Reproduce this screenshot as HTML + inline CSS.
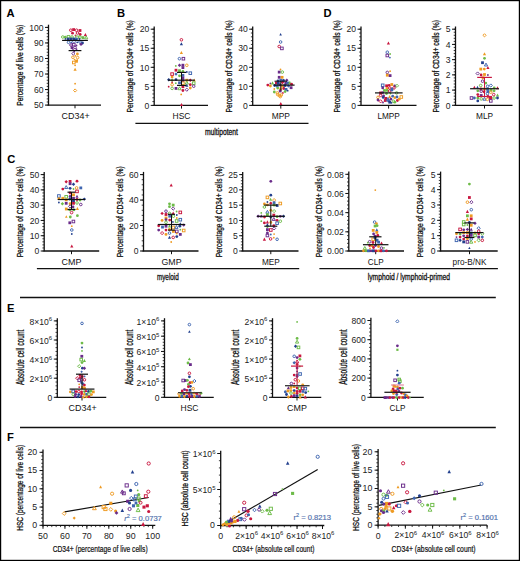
<!DOCTYPE html>
<html><head><meta charset="utf-8"><style>
html,body{margin:0;padding:0;background:#fff;overflow:hidden;}
svg{display:block;font-family:"Liberation Sans", sans-serif;}
</style></head><body>
<svg width="520" height="561" viewBox="0 0 520 561">
<rect x="0.5" y="0.5" width="519" height="560" fill="#fff" stroke="#000" stroke-width="1.4"/>
<text x="6.6" y="17.4" font-size="11.2" text-anchor="start" font-weight="bold" fill="#000" >A</text>
<text x="117" y="16.8" font-size="11.2" text-anchor="start" font-weight="bold" fill="#000" >B</text>
<text x="323.6" y="17" font-size="11.2" text-anchor="start" font-weight="bold" fill="#000" >D</text>
<text x="7.2" y="162.5" font-size="11.2" text-anchor="start" font-weight="bold" fill="#000" >C</text>
<text x="7" y="311.6" font-size="11.2" text-anchor="start" font-weight="bold" fill="#000" >E</text>
<text x="7" y="440.9" font-size="11.2" text-anchor="start" font-weight="bold" fill="#000" >F</text>
<line x1="48.5" y1="24.7" x2="48.5" y2="105.7" stroke="#111" stroke-width="1.3"/>
<line x1="46.7" y1="105.1" x2="48.5" y2="105.1" stroke="#111" stroke-width="0.8"/>
<line x1="46.7" y1="101.99" x2="48.5" y2="101.99" stroke="#111" stroke-width="0.8"/>
<line x1="46.7" y1="98.88" x2="48.5" y2="98.88" stroke="#111" stroke-width="0.8"/>
<line x1="46.7" y1="95.78" x2="48.5" y2="95.78" stroke="#111" stroke-width="0.8"/>
<line x1="46.7" y1="92.67" x2="48.5" y2="92.67" stroke="#111" stroke-width="0.8"/>
<line x1="46.7" y1="89.56" x2="48.5" y2="89.56" stroke="#111" stroke-width="0.8"/>
<line x1="46.7" y1="86.45" x2="48.5" y2="86.45" stroke="#111" stroke-width="0.8"/>
<line x1="46.7" y1="83.34" x2="48.5" y2="83.34" stroke="#111" stroke-width="0.8"/>
<line x1="46.7" y1="80.24" x2="48.5" y2="80.24" stroke="#111" stroke-width="0.8"/>
<line x1="46.7" y1="77.13" x2="48.5" y2="77.13" stroke="#111" stroke-width="0.8"/>
<line x1="46.7" y1="74.02" x2="48.5" y2="74.02" stroke="#111" stroke-width="0.8"/>
<line x1="46.7" y1="70.91" x2="48.5" y2="70.91" stroke="#111" stroke-width="0.8"/>
<line x1="46.7" y1="67.8" x2="48.5" y2="67.8" stroke="#111" stroke-width="0.8"/>
<line x1="46.7" y1="64.7" x2="48.5" y2="64.7" stroke="#111" stroke-width="0.8"/>
<line x1="46.7" y1="61.59" x2="48.5" y2="61.59" stroke="#111" stroke-width="0.8"/>
<line x1="46.7" y1="58.48" x2="48.5" y2="58.48" stroke="#111" stroke-width="0.8"/>
<line x1="46.7" y1="55.37" x2="48.5" y2="55.37" stroke="#111" stroke-width="0.8"/>
<line x1="46.7" y1="52.26" x2="48.5" y2="52.26" stroke="#111" stroke-width="0.8"/>
<line x1="46.7" y1="49.16" x2="48.5" y2="49.16" stroke="#111" stroke-width="0.8"/>
<line x1="46.7" y1="46.05" x2="48.5" y2="46.05" stroke="#111" stroke-width="0.8"/>
<line x1="46.7" y1="42.94" x2="48.5" y2="42.94" stroke="#111" stroke-width="0.8"/>
<line x1="46.7" y1="39.83" x2="48.5" y2="39.83" stroke="#111" stroke-width="0.8"/>
<line x1="46.7" y1="36.72" x2="48.5" y2="36.72" stroke="#111" stroke-width="0.8"/>
<line x1="46.7" y1="33.62" x2="48.5" y2="33.62" stroke="#111" stroke-width="0.8"/>
<line x1="46.7" y1="30.51" x2="48.5" y2="30.51" stroke="#111" stroke-width="0.8"/>
<line x1="46.7" y1="27.4" x2="48.5" y2="27.4" stroke="#111" stroke-width="0.8"/>
<line x1="45" y1="105.1" x2="48.5" y2="105.1" stroke="#111" stroke-width="1.0"/>
<text x="43.5" y="108.3" font-size="8.6" text-anchor="end" font-weight="normal" fill="#222" >50</text>
<line x1="45" y1="89.56" x2="48.5" y2="89.56" stroke="#111" stroke-width="1.0"/>
<text x="43.5" y="92.76" font-size="8.6" text-anchor="end" font-weight="normal" fill="#222" >60</text>
<line x1="45" y1="74.02" x2="48.5" y2="74.02" stroke="#111" stroke-width="1.0"/>
<text x="43.5" y="77.22" font-size="8.6" text-anchor="end" font-weight="normal" fill="#222" >70</text>
<line x1="45" y1="58.48" x2="48.5" y2="58.48" stroke="#111" stroke-width="1.0"/>
<text x="43.5" y="61.68" font-size="8.6" text-anchor="end" font-weight="normal" fill="#222" >80</text>
<line x1="45" y1="42.94" x2="48.5" y2="42.94" stroke="#111" stroke-width="1.0"/>
<text x="43.5" y="46.14" font-size="8.6" text-anchor="end" font-weight="normal" fill="#222" >90</text>
<line x1="45" y1="27.4" x2="48.5" y2="27.4" stroke="#111" stroke-width="1.0"/>
<text x="43.5" y="30.6" font-size="8.6" text-anchor="end" font-weight="normal" fill="#222" >100</text>
<line x1="48.5" y1="105.1" x2="101" y2="105.1" stroke="#111" stroke-width="1.3"/>
<line x1="75" y1="105.1" x2="75" y2="108.3" stroke="#111" stroke-width="1.0"/>
<text x="75.6" y="118.7" font-size="8.9" text-anchor="middle" fill="#111" textLength="28" lengthAdjust="spacingAndGlyphs">CD34+</text>
<text transform="translate(19.8,65.25) rotate(-90)" x="0" y="3.31" font-size="9.2" text-anchor="middle" fill="#111" stroke="#111" stroke-width="0.28" textLength="81" lengthAdjust="spacingAndGlyphs">Percentage of live cells (%)</text>
<line x1="154.2" y1="26.5" x2="154.2" y2="106" stroke="#111" stroke-width="1.3"/>
<line x1="152.4" y1="105.4" x2="154.2" y2="105.4" stroke="#111" stroke-width="0.8"/>
<line x1="152.4" y1="101.59" x2="154.2" y2="101.59" stroke="#111" stroke-width="0.8"/>
<line x1="152.4" y1="97.78" x2="154.2" y2="97.78" stroke="#111" stroke-width="0.8"/>
<line x1="152.4" y1="93.97" x2="154.2" y2="93.97" stroke="#111" stroke-width="0.8"/>
<line x1="152.4" y1="90.16" x2="154.2" y2="90.16" stroke="#111" stroke-width="0.8"/>
<line x1="152.4" y1="86.35" x2="154.2" y2="86.35" stroke="#111" stroke-width="0.8"/>
<line x1="152.4" y1="82.54" x2="154.2" y2="82.54" stroke="#111" stroke-width="0.8"/>
<line x1="152.4" y1="78.73" x2="154.2" y2="78.73" stroke="#111" stroke-width="0.8"/>
<line x1="152.4" y1="74.92" x2="154.2" y2="74.92" stroke="#111" stroke-width="0.8"/>
<line x1="152.4" y1="71.11" x2="154.2" y2="71.11" stroke="#111" stroke-width="0.8"/>
<line x1="152.4" y1="67.3" x2="154.2" y2="67.3" stroke="#111" stroke-width="0.8"/>
<line x1="152.4" y1="63.49" x2="154.2" y2="63.49" stroke="#111" stroke-width="0.8"/>
<line x1="152.4" y1="59.68" x2="154.2" y2="59.68" stroke="#111" stroke-width="0.8"/>
<line x1="152.4" y1="55.87" x2="154.2" y2="55.87" stroke="#111" stroke-width="0.8"/>
<line x1="152.4" y1="52.06" x2="154.2" y2="52.06" stroke="#111" stroke-width="0.8"/>
<line x1="152.4" y1="48.25" x2="154.2" y2="48.25" stroke="#111" stroke-width="0.8"/>
<line x1="152.4" y1="44.44" x2="154.2" y2="44.44" stroke="#111" stroke-width="0.8"/>
<line x1="152.4" y1="40.63" x2="154.2" y2="40.63" stroke="#111" stroke-width="0.8"/>
<line x1="152.4" y1="36.82" x2="154.2" y2="36.82" stroke="#111" stroke-width="0.8"/>
<line x1="152.4" y1="33.01" x2="154.2" y2="33.01" stroke="#111" stroke-width="0.8"/>
<line x1="152.4" y1="29.2" x2="154.2" y2="29.2" stroke="#111" stroke-width="0.8"/>
<line x1="150.7" y1="105.4" x2="154.2" y2="105.4" stroke="#111" stroke-width="1.0"/>
<text x="149.2" y="108.6" font-size="8.6" text-anchor="end" font-weight="normal" fill="#222" >0</text>
<line x1="150.7" y1="86.35" x2="154.2" y2="86.35" stroke="#111" stroke-width="1.0"/>
<text x="149.2" y="89.55" font-size="8.6" text-anchor="end" font-weight="normal" fill="#222" >5</text>
<line x1="150.7" y1="67.3" x2="154.2" y2="67.3" stroke="#111" stroke-width="1.0"/>
<text x="149.2" y="70.5" font-size="8.6" text-anchor="end" font-weight="normal" fill="#222" >10</text>
<line x1="150.7" y1="48.25" x2="154.2" y2="48.25" stroke="#111" stroke-width="1.0"/>
<text x="149.2" y="51.45" font-size="8.6" text-anchor="end" font-weight="normal" fill="#222" >15</text>
<line x1="150.7" y1="29.2" x2="154.2" y2="29.2" stroke="#111" stroke-width="1.0"/>
<text x="149.2" y="32.4" font-size="8.6" text-anchor="end" font-weight="normal" fill="#222" >20</text>
<line x1="154.2" y1="105.4" x2="208" y2="105.4" stroke="#111" stroke-width="1.3"/>
<line x1="181.5" y1="105.4" x2="181.5" y2="108.6" stroke="#111" stroke-width="1.0"/>
<text x="181.5" y="119" font-size="8.9" text-anchor="middle" fill="#111" textLength="17.9" lengthAdjust="spacingAndGlyphs">HSC</text>
<text transform="translate(129.2,66.3) rotate(-90)" x="0" y="3.31" font-size="9.2" text-anchor="middle" fill="#111" stroke="#111" stroke-width="0.28" textLength="92.3" lengthAdjust="spacingAndGlyphs">Percentage of CD34+ cells (%)</text>
<line x1="252.7" y1="26.5" x2="252.7" y2="106" stroke="#111" stroke-width="1.3"/>
<line x1="250.9" y1="105.4" x2="252.7" y2="105.4" stroke="#111" stroke-width="0.8"/>
<line x1="250.9" y1="101.59" x2="252.7" y2="101.59" stroke="#111" stroke-width="0.8"/>
<line x1="250.9" y1="97.78" x2="252.7" y2="97.78" stroke="#111" stroke-width="0.8"/>
<line x1="250.9" y1="93.97" x2="252.7" y2="93.97" stroke="#111" stroke-width="0.8"/>
<line x1="250.9" y1="90.16" x2="252.7" y2="90.16" stroke="#111" stroke-width="0.8"/>
<line x1="250.9" y1="86.35" x2="252.7" y2="86.35" stroke="#111" stroke-width="0.8"/>
<line x1="250.9" y1="82.54" x2="252.7" y2="82.54" stroke="#111" stroke-width="0.8"/>
<line x1="250.9" y1="78.73" x2="252.7" y2="78.73" stroke="#111" stroke-width="0.8"/>
<line x1="250.9" y1="74.92" x2="252.7" y2="74.92" stroke="#111" stroke-width="0.8"/>
<line x1="250.9" y1="71.11" x2="252.7" y2="71.11" stroke="#111" stroke-width="0.8"/>
<line x1="250.9" y1="67.3" x2="252.7" y2="67.3" stroke="#111" stroke-width="0.8"/>
<line x1="250.9" y1="63.49" x2="252.7" y2="63.49" stroke="#111" stroke-width="0.8"/>
<line x1="250.9" y1="59.68" x2="252.7" y2="59.68" stroke="#111" stroke-width="0.8"/>
<line x1="250.9" y1="55.87" x2="252.7" y2="55.87" stroke="#111" stroke-width="0.8"/>
<line x1="250.9" y1="52.06" x2="252.7" y2="52.06" stroke="#111" stroke-width="0.8"/>
<line x1="250.9" y1="48.25" x2="252.7" y2="48.25" stroke="#111" stroke-width="0.8"/>
<line x1="250.9" y1="44.44" x2="252.7" y2="44.44" stroke="#111" stroke-width="0.8"/>
<line x1="250.9" y1="40.63" x2="252.7" y2="40.63" stroke="#111" stroke-width="0.8"/>
<line x1="250.9" y1="36.82" x2="252.7" y2="36.82" stroke="#111" stroke-width="0.8"/>
<line x1="250.9" y1="33.01" x2="252.7" y2="33.01" stroke="#111" stroke-width="0.8"/>
<line x1="250.9" y1="29.2" x2="252.7" y2="29.2" stroke="#111" stroke-width="0.8"/>
<line x1="249.2" y1="105.4" x2="252.7" y2="105.4" stroke="#111" stroke-width="1.0"/>
<text x="247.7" y="108.6" font-size="8.6" text-anchor="end" font-weight="normal" fill="#222" >0</text>
<line x1="249.2" y1="86.35" x2="252.7" y2="86.35" stroke="#111" stroke-width="1.0"/>
<text x="247.7" y="89.55" font-size="8.6" text-anchor="end" font-weight="normal" fill="#222" >10</text>
<line x1="249.2" y1="67.3" x2="252.7" y2="67.3" stroke="#111" stroke-width="1.0"/>
<text x="247.7" y="70.5" font-size="8.6" text-anchor="end" font-weight="normal" fill="#222" >20</text>
<line x1="249.2" y1="48.25" x2="252.7" y2="48.25" stroke="#111" stroke-width="1.0"/>
<text x="247.7" y="51.45" font-size="8.6" text-anchor="end" font-weight="normal" fill="#222" >30</text>
<line x1="249.2" y1="29.2" x2="252.7" y2="29.2" stroke="#111" stroke-width="1.0"/>
<text x="247.7" y="32.4" font-size="8.6" text-anchor="end" font-weight="normal" fill="#222" >40</text>
<line x1="252.7" y1="105.4" x2="308" y2="105.4" stroke="#111" stroke-width="1.3"/>
<line x1="280.8" y1="105.4" x2="280.8" y2="108.6" stroke="#111" stroke-width="1.0"/>
<text x="280.8" y="119" font-size="8.9" text-anchor="middle" fill="#111" textLength="18.2" lengthAdjust="spacingAndGlyphs">MPP</text>
<text transform="translate(228.3,66.3) rotate(-90)" x="0" y="3.31" font-size="9.2" text-anchor="middle" fill="#111" stroke="#111" stroke-width="0.28" textLength="92.3" lengthAdjust="spacingAndGlyphs">Percentage of CD34+ cells (%)</text>
<line x1="361" y1="26.5" x2="361" y2="106" stroke="#111" stroke-width="1.3"/>
<line x1="359.2" y1="105.4" x2="361" y2="105.4" stroke="#111" stroke-width="0.8"/>
<line x1="359.2" y1="101.59" x2="361" y2="101.59" stroke="#111" stroke-width="0.8"/>
<line x1="359.2" y1="97.78" x2="361" y2="97.78" stroke="#111" stroke-width="0.8"/>
<line x1="359.2" y1="93.97" x2="361" y2="93.97" stroke="#111" stroke-width="0.8"/>
<line x1="359.2" y1="90.16" x2="361" y2="90.16" stroke="#111" stroke-width="0.8"/>
<line x1="359.2" y1="86.35" x2="361" y2="86.35" stroke="#111" stroke-width="0.8"/>
<line x1="359.2" y1="82.54" x2="361" y2="82.54" stroke="#111" stroke-width="0.8"/>
<line x1="359.2" y1="78.73" x2="361" y2="78.73" stroke="#111" stroke-width="0.8"/>
<line x1="359.2" y1="74.92" x2="361" y2="74.92" stroke="#111" stroke-width="0.8"/>
<line x1="359.2" y1="71.11" x2="361" y2="71.11" stroke="#111" stroke-width="0.8"/>
<line x1="359.2" y1="67.3" x2="361" y2="67.3" stroke="#111" stroke-width="0.8"/>
<line x1="359.2" y1="63.49" x2="361" y2="63.49" stroke="#111" stroke-width="0.8"/>
<line x1="359.2" y1="59.68" x2="361" y2="59.68" stroke="#111" stroke-width="0.8"/>
<line x1="359.2" y1="55.87" x2="361" y2="55.87" stroke="#111" stroke-width="0.8"/>
<line x1="359.2" y1="52.06" x2="361" y2="52.06" stroke="#111" stroke-width="0.8"/>
<line x1="359.2" y1="48.25" x2="361" y2="48.25" stroke="#111" stroke-width="0.8"/>
<line x1="359.2" y1="44.44" x2="361" y2="44.44" stroke="#111" stroke-width="0.8"/>
<line x1="359.2" y1="40.63" x2="361" y2="40.63" stroke="#111" stroke-width="0.8"/>
<line x1="359.2" y1="36.82" x2="361" y2="36.82" stroke="#111" stroke-width="0.8"/>
<line x1="359.2" y1="33.01" x2="361" y2="33.01" stroke="#111" stroke-width="0.8"/>
<line x1="359.2" y1="29.2" x2="361" y2="29.2" stroke="#111" stroke-width="0.8"/>
<line x1="357.5" y1="105.4" x2="361" y2="105.4" stroke="#111" stroke-width="1.0"/>
<text x="356" y="108.6" font-size="8.6" text-anchor="end" font-weight="normal" fill="#222" >0</text>
<line x1="357.5" y1="86.35" x2="361" y2="86.35" stroke="#111" stroke-width="1.0"/>
<text x="356" y="89.55" font-size="8.6" text-anchor="end" font-weight="normal" fill="#222" >5</text>
<line x1="357.5" y1="67.3" x2="361" y2="67.3" stroke="#111" stroke-width="1.0"/>
<text x="356" y="70.5" font-size="8.6" text-anchor="end" font-weight="normal" fill="#222" >10</text>
<line x1="357.5" y1="48.25" x2="361" y2="48.25" stroke="#111" stroke-width="1.0"/>
<text x="356" y="51.45" font-size="8.6" text-anchor="end" font-weight="normal" fill="#222" >15</text>
<line x1="357.5" y1="29.2" x2="361" y2="29.2" stroke="#111" stroke-width="1.0"/>
<text x="356" y="32.4" font-size="8.6" text-anchor="end" font-weight="normal" fill="#222" >20</text>
<line x1="361" y1="105.4" x2="416.5" y2="105.4" stroke="#111" stroke-width="1.3"/>
<line x1="388.6" y1="105.4" x2="388.6" y2="108.6" stroke="#111" stroke-width="1.0"/>
<text x="388.6" y="119" font-size="8.9" text-anchor="middle" fill="#111" textLength="22.4" lengthAdjust="spacingAndGlyphs">LMPP</text>
<text transform="translate(336.9,66.3) rotate(-90)" x="0" y="3.31" font-size="9.2" text-anchor="middle" fill="#111" stroke="#111" stroke-width="0.28" textLength="92.3" lengthAdjust="spacingAndGlyphs">Percentage of CD34+ cells (%)</text>
<line x1="455.5" y1="26.5" x2="455.5" y2="105.9" stroke="#111" stroke-width="1.3"/>
<line x1="453.7" y1="105.3" x2="455.5" y2="105.3" stroke="#111" stroke-width="0.8"/>
<line x1="453.7" y1="102.26" x2="455.5" y2="102.26" stroke="#111" stroke-width="0.8"/>
<line x1="453.7" y1="99.21" x2="455.5" y2="99.21" stroke="#111" stroke-width="0.8"/>
<line x1="453.7" y1="96.17" x2="455.5" y2="96.17" stroke="#111" stroke-width="0.8"/>
<line x1="453.7" y1="93.12" x2="455.5" y2="93.12" stroke="#111" stroke-width="0.8"/>
<line x1="453.7" y1="90.08" x2="455.5" y2="90.08" stroke="#111" stroke-width="0.8"/>
<line x1="453.7" y1="87.04" x2="455.5" y2="87.04" stroke="#111" stroke-width="0.8"/>
<line x1="453.7" y1="83.99" x2="455.5" y2="83.99" stroke="#111" stroke-width="0.8"/>
<line x1="453.7" y1="80.95" x2="455.5" y2="80.95" stroke="#111" stroke-width="0.8"/>
<line x1="453.7" y1="77.9" x2="455.5" y2="77.9" stroke="#111" stroke-width="0.8"/>
<line x1="453.7" y1="74.86" x2="455.5" y2="74.86" stroke="#111" stroke-width="0.8"/>
<line x1="453.7" y1="71.82" x2="455.5" y2="71.82" stroke="#111" stroke-width="0.8"/>
<line x1="453.7" y1="68.77" x2="455.5" y2="68.77" stroke="#111" stroke-width="0.8"/>
<line x1="453.7" y1="65.73" x2="455.5" y2="65.73" stroke="#111" stroke-width="0.8"/>
<line x1="453.7" y1="62.68" x2="455.5" y2="62.68" stroke="#111" stroke-width="0.8"/>
<line x1="453.7" y1="59.64" x2="455.5" y2="59.64" stroke="#111" stroke-width="0.8"/>
<line x1="453.7" y1="56.6" x2="455.5" y2="56.6" stroke="#111" stroke-width="0.8"/>
<line x1="453.7" y1="53.55" x2="455.5" y2="53.55" stroke="#111" stroke-width="0.8"/>
<line x1="453.7" y1="50.51" x2="455.5" y2="50.51" stroke="#111" stroke-width="0.8"/>
<line x1="453.7" y1="47.46" x2="455.5" y2="47.46" stroke="#111" stroke-width="0.8"/>
<line x1="453.7" y1="44.42" x2="455.5" y2="44.42" stroke="#111" stroke-width="0.8"/>
<line x1="453.7" y1="41.38" x2="455.5" y2="41.38" stroke="#111" stroke-width="0.8"/>
<line x1="453.7" y1="38.33" x2="455.5" y2="38.33" stroke="#111" stroke-width="0.8"/>
<line x1="453.7" y1="35.29" x2="455.5" y2="35.29" stroke="#111" stroke-width="0.8"/>
<line x1="453.7" y1="32.24" x2="455.5" y2="32.24" stroke="#111" stroke-width="0.8"/>
<line x1="453.7" y1="29.2" x2="455.5" y2="29.2" stroke="#111" stroke-width="0.8"/>
<line x1="452" y1="105.3" x2="455.5" y2="105.3" stroke="#111" stroke-width="1.0"/>
<text x="450.5" y="108.5" font-size="8.6" text-anchor="end" font-weight="normal" fill="#222" >0</text>
<line x1="452" y1="90.08" x2="455.5" y2="90.08" stroke="#111" stroke-width="1.0"/>
<text x="450.5" y="93.28" font-size="8.6" text-anchor="end" font-weight="normal" fill="#222" >1</text>
<line x1="452" y1="74.86" x2="455.5" y2="74.86" stroke="#111" stroke-width="1.0"/>
<text x="450.5" y="78.06" font-size="8.6" text-anchor="end" font-weight="normal" fill="#222" >2</text>
<line x1="452" y1="59.64" x2="455.5" y2="59.64" stroke="#111" stroke-width="1.0"/>
<text x="450.5" y="62.84" font-size="8.6" text-anchor="end" font-weight="normal" fill="#222" >3</text>
<line x1="452" y1="44.42" x2="455.5" y2="44.42" stroke="#111" stroke-width="1.0"/>
<text x="450.5" y="47.62" font-size="8.6" text-anchor="end" font-weight="normal" fill="#222" >4</text>
<line x1="452" y1="29.2" x2="455.5" y2="29.2" stroke="#111" stroke-width="1.0"/>
<text x="450.5" y="32.4" font-size="8.6" text-anchor="end" font-weight="normal" fill="#222" >5</text>
<line x1="455.5" y1="105.3" x2="512.5" y2="105.3" stroke="#111" stroke-width="1.3"/>
<line x1="484.5" y1="105.3" x2="484.5" y2="108.5" stroke="#111" stroke-width="1.0"/>
<text x="484.5" y="118.9" font-size="8.9" text-anchor="middle" fill="#111" textLength="17" lengthAdjust="spacingAndGlyphs">MLP</text>
<text transform="translate(435.6,66.25) rotate(-90)" x="0" y="3.31" font-size="9.2" text-anchor="middle" fill="#111" stroke="#111" stroke-width="0.28" textLength="92.3" lengthAdjust="spacingAndGlyphs">Percentage of CD34+ cells (%)</text>
<line x1="44.2" y1="171.9" x2="44.2" y2="251.6" stroke="#111" stroke-width="1.3"/>
<line x1="42.4" y1="251" x2="44.2" y2="251" stroke="#111" stroke-width="0.8"/>
<line x1="42.4" y1="247.94" x2="44.2" y2="247.94" stroke="#111" stroke-width="0.8"/>
<line x1="42.4" y1="244.89" x2="44.2" y2="244.89" stroke="#111" stroke-width="0.8"/>
<line x1="42.4" y1="241.83" x2="44.2" y2="241.83" stroke="#111" stroke-width="0.8"/>
<line x1="42.4" y1="238.78" x2="44.2" y2="238.78" stroke="#111" stroke-width="0.8"/>
<line x1="42.4" y1="235.72" x2="44.2" y2="235.72" stroke="#111" stroke-width="0.8"/>
<line x1="42.4" y1="232.66" x2="44.2" y2="232.66" stroke="#111" stroke-width="0.8"/>
<line x1="42.4" y1="229.61" x2="44.2" y2="229.61" stroke="#111" stroke-width="0.8"/>
<line x1="42.4" y1="226.55" x2="44.2" y2="226.55" stroke="#111" stroke-width="0.8"/>
<line x1="42.4" y1="223.5" x2="44.2" y2="223.5" stroke="#111" stroke-width="0.8"/>
<line x1="42.4" y1="220.44" x2="44.2" y2="220.44" stroke="#111" stroke-width="0.8"/>
<line x1="42.4" y1="217.38" x2="44.2" y2="217.38" stroke="#111" stroke-width="0.8"/>
<line x1="42.4" y1="214.33" x2="44.2" y2="214.33" stroke="#111" stroke-width="0.8"/>
<line x1="42.4" y1="211.27" x2="44.2" y2="211.27" stroke="#111" stroke-width="0.8"/>
<line x1="42.4" y1="208.22" x2="44.2" y2="208.22" stroke="#111" stroke-width="0.8"/>
<line x1="42.4" y1="205.16" x2="44.2" y2="205.16" stroke="#111" stroke-width="0.8"/>
<line x1="42.4" y1="202.1" x2="44.2" y2="202.1" stroke="#111" stroke-width="0.8"/>
<line x1="42.4" y1="199.05" x2="44.2" y2="199.05" stroke="#111" stroke-width="0.8"/>
<line x1="42.4" y1="195.99" x2="44.2" y2="195.99" stroke="#111" stroke-width="0.8"/>
<line x1="42.4" y1="192.94" x2="44.2" y2="192.94" stroke="#111" stroke-width="0.8"/>
<line x1="42.4" y1="189.88" x2="44.2" y2="189.88" stroke="#111" stroke-width="0.8"/>
<line x1="42.4" y1="186.82" x2="44.2" y2="186.82" stroke="#111" stroke-width="0.8"/>
<line x1="42.4" y1="183.77" x2="44.2" y2="183.77" stroke="#111" stroke-width="0.8"/>
<line x1="42.4" y1="180.71" x2="44.2" y2="180.71" stroke="#111" stroke-width="0.8"/>
<line x1="42.4" y1="177.66" x2="44.2" y2="177.66" stroke="#111" stroke-width="0.8"/>
<line x1="42.4" y1="174.6" x2="44.2" y2="174.6" stroke="#111" stroke-width="0.8"/>
<line x1="40.7" y1="251" x2="44.2" y2="251" stroke="#111" stroke-width="1.0"/>
<text x="39.2" y="254.2" font-size="8.6" text-anchor="end" font-weight="normal" fill="#222" >0</text>
<line x1="40.7" y1="235.72" x2="44.2" y2="235.72" stroke="#111" stroke-width="1.0"/>
<text x="39.2" y="238.92" font-size="8.6" text-anchor="end" font-weight="normal" fill="#222" >10</text>
<line x1="40.7" y1="220.44" x2="44.2" y2="220.44" stroke="#111" stroke-width="1.0"/>
<text x="39.2" y="223.64" font-size="8.6" text-anchor="end" font-weight="normal" fill="#222" >20</text>
<line x1="40.7" y1="205.16" x2="44.2" y2="205.16" stroke="#111" stroke-width="1.0"/>
<text x="39.2" y="208.36" font-size="8.6" text-anchor="end" font-weight="normal" fill="#222" >30</text>
<line x1="40.7" y1="189.88" x2="44.2" y2="189.88" stroke="#111" stroke-width="1.0"/>
<text x="39.2" y="193.08" font-size="8.6" text-anchor="end" font-weight="normal" fill="#222" >40</text>
<line x1="40.7" y1="174.6" x2="44.2" y2="174.6" stroke="#111" stroke-width="1.0"/>
<text x="39.2" y="177.8" font-size="8.6" text-anchor="end" font-weight="normal" fill="#222" >50</text>
<line x1="44.2" y1="251" x2="99.2" y2="251" stroke="#111" stroke-width="1.3"/>
<line x1="71.5" y1="251" x2="71.5" y2="254.2" stroke="#111" stroke-width="1.0"/>
<text x="71.5" y="264.6" font-size="8.9" text-anchor="middle" fill="#111" textLength="19.8" lengthAdjust="spacingAndGlyphs">CMP</text>
<text transform="translate(19.2,211.8) rotate(-90)" x="0" y="3.31" font-size="9.2" text-anchor="middle" fill="#111" stroke="#111" stroke-width="0.28" textLength="91" lengthAdjust="spacingAndGlyphs">Percentage of CD34+ cells (%)</text>
<line x1="143.5" y1="171.9" x2="143.5" y2="251.6" stroke="#111" stroke-width="1.3"/>
<line x1="141.7" y1="251" x2="143.5" y2="251" stroke="#111" stroke-width="0.8"/>
<line x1="141.7" y1="245.91" x2="143.5" y2="245.91" stroke="#111" stroke-width="0.8"/>
<line x1="141.7" y1="240.81" x2="143.5" y2="240.81" stroke="#111" stroke-width="0.8"/>
<line x1="141.7" y1="235.72" x2="143.5" y2="235.72" stroke="#111" stroke-width="0.8"/>
<line x1="141.7" y1="230.63" x2="143.5" y2="230.63" stroke="#111" stroke-width="0.8"/>
<line x1="141.7" y1="225.53" x2="143.5" y2="225.53" stroke="#111" stroke-width="0.8"/>
<line x1="141.7" y1="220.44" x2="143.5" y2="220.44" stroke="#111" stroke-width="0.8"/>
<line x1="141.7" y1="215.35" x2="143.5" y2="215.35" stroke="#111" stroke-width="0.8"/>
<line x1="141.7" y1="210.25" x2="143.5" y2="210.25" stroke="#111" stroke-width="0.8"/>
<line x1="141.7" y1="205.16" x2="143.5" y2="205.16" stroke="#111" stroke-width="0.8"/>
<line x1="141.7" y1="200.07" x2="143.5" y2="200.07" stroke="#111" stroke-width="0.8"/>
<line x1="141.7" y1="194.97" x2="143.5" y2="194.97" stroke="#111" stroke-width="0.8"/>
<line x1="141.7" y1="189.88" x2="143.5" y2="189.88" stroke="#111" stroke-width="0.8"/>
<line x1="141.7" y1="184.79" x2="143.5" y2="184.79" stroke="#111" stroke-width="0.8"/>
<line x1="141.7" y1="179.69" x2="143.5" y2="179.69" stroke="#111" stroke-width="0.8"/>
<line x1="141.7" y1="174.6" x2="143.5" y2="174.6" stroke="#111" stroke-width="0.8"/>
<line x1="140" y1="251" x2="143.5" y2="251" stroke="#111" stroke-width="1.0"/>
<text x="138.5" y="254.2" font-size="8.6" text-anchor="end" font-weight="normal" fill="#222" >0</text>
<line x1="140" y1="225.53" x2="143.5" y2="225.53" stroke="#111" stroke-width="1.0"/>
<text x="138.5" y="228.73" font-size="8.6" text-anchor="end" font-weight="normal" fill="#222" >20</text>
<line x1="140" y1="200.07" x2="143.5" y2="200.07" stroke="#111" stroke-width="1.0"/>
<text x="138.5" y="203.27" font-size="8.6" text-anchor="end" font-weight="normal" fill="#222" >40</text>
<line x1="140" y1="174.6" x2="143.5" y2="174.6" stroke="#111" stroke-width="1.0"/>
<text x="138.5" y="177.8" font-size="8.6" text-anchor="end" font-weight="normal" fill="#222" >60</text>
<line x1="143.5" y1="251" x2="198.5" y2="251" stroke="#111" stroke-width="1.3"/>
<line x1="171.5" y1="251" x2="171.5" y2="254.2" stroke="#111" stroke-width="1.0"/>
<text x="171.5" y="264.6" font-size="8.9" text-anchor="middle" fill="#111" textLength="20" lengthAdjust="spacingAndGlyphs">GMP</text>
<text transform="translate(119.2,211.8) rotate(-90)" x="0" y="3.31" font-size="9.2" text-anchor="middle" fill="#111" stroke="#111" stroke-width="0.28" textLength="91" lengthAdjust="spacingAndGlyphs">Percentage of CD34+ cells (%)</text>
<line x1="242.7" y1="171.9" x2="242.7" y2="251.6" stroke="#111" stroke-width="1.3"/>
<line x1="240.9" y1="251" x2="242.7" y2="251" stroke="#111" stroke-width="0.8"/>
<line x1="240.9" y1="247.94" x2="242.7" y2="247.94" stroke="#111" stroke-width="0.8"/>
<line x1="240.9" y1="244.89" x2="242.7" y2="244.89" stroke="#111" stroke-width="0.8"/>
<line x1="240.9" y1="241.83" x2="242.7" y2="241.83" stroke="#111" stroke-width="0.8"/>
<line x1="240.9" y1="238.78" x2="242.7" y2="238.78" stroke="#111" stroke-width="0.8"/>
<line x1="240.9" y1="235.72" x2="242.7" y2="235.72" stroke="#111" stroke-width="0.8"/>
<line x1="240.9" y1="232.66" x2="242.7" y2="232.66" stroke="#111" stroke-width="0.8"/>
<line x1="240.9" y1="229.61" x2="242.7" y2="229.61" stroke="#111" stroke-width="0.8"/>
<line x1="240.9" y1="226.55" x2="242.7" y2="226.55" stroke="#111" stroke-width="0.8"/>
<line x1="240.9" y1="223.5" x2="242.7" y2="223.5" stroke="#111" stroke-width="0.8"/>
<line x1="240.9" y1="220.44" x2="242.7" y2="220.44" stroke="#111" stroke-width="0.8"/>
<line x1="240.9" y1="217.38" x2="242.7" y2="217.38" stroke="#111" stroke-width="0.8"/>
<line x1="240.9" y1="214.33" x2="242.7" y2="214.33" stroke="#111" stroke-width="0.8"/>
<line x1="240.9" y1="211.27" x2="242.7" y2="211.27" stroke="#111" stroke-width="0.8"/>
<line x1="240.9" y1="208.22" x2="242.7" y2="208.22" stroke="#111" stroke-width="0.8"/>
<line x1="240.9" y1="205.16" x2="242.7" y2="205.16" stroke="#111" stroke-width="0.8"/>
<line x1="240.9" y1="202.1" x2="242.7" y2="202.1" stroke="#111" stroke-width="0.8"/>
<line x1="240.9" y1="199.05" x2="242.7" y2="199.05" stroke="#111" stroke-width="0.8"/>
<line x1="240.9" y1="195.99" x2="242.7" y2="195.99" stroke="#111" stroke-width="0.8"/>
<line x1="240.9" y1="192.94" x2="242.7" y2="192.94" stroke="#111" stroke-width="0.8"/>
<line x1="240.9" y1="189.88" x2="242.7" y2="189.88" stroke="#111" stroke-width="0.8"/>
<line x1="240.9" y1="186.82" x2="242.7" y2="186.82" stroke="#111" stroke-width="0.8"/>
<line x1="240.9" y1="183.77" x2="242.7" y2="183.77" stroke="#111" stroke-width="0.8"/>
<line x1="240.9" y1="180.71" x2="242.7" y2="180.71" stroke="#111" stroke-width="0.8"/>
<line x1="240.9" y1="177.66" x2="242.7" y2="177.66" stroke="#111" stroke-width="0.8"/>
<line x1="240.9" y1="174.6" x2="242.7" y2="174.6" stroke="#111" stroke-width="0.8"/>
<line x1="239.2" y1="251" x2="242.7" y2="251" stroke="#111" stroke-width="1.0"/>
<text x="237.7" y="254.2" font-size="8.6" text-anchor="end" font-weight="normal" fill="#222" >0</text>
<line x1="239.2" y1="235.72" x2="242.7" y2="235.72" stroke="#111" stroke-width="1.0"/>
<text x="237.7" y="238.92" font-size="8.6" text-anchor="end" font-weight="normal" fill="#222" >5</text>
<line x1="239.2" y1="220.44" x2="242.7" y2="220.44" stroke="#111" stroke-width="1.0"/>
<text x="237.7" y="223.64" font-size="8.6" text-anchor="end" font-weight="normal" fill="#222" >10</text>
<line x1="239.2" y1="205.16" x2="242.7" y2="205.16" stroke="#111" stroke-width="1.0"/>
<text x="237.7" y="208.36" font-size="8.6" text-anchor="end" font-weight="normal" fill="#222" >15</text>
<line x1="239.2" y1="189.88" x2="242.7" y2="189.88" stroke="#111" stroke-width="1.0"/>
<text x="237.7" y="193.08" font-size="8.6" text-anchor="end" font-weight="normal" fill="#222" >20</text>
<line x1="239.2" y1="174.6" x2="242.7" y2="174.6" stroke="#111" stroke-width="1.0"/>
<text x="237.7" y="177.8" font-size="8.6" text-anchor="end" font-weight="normal" fill="#222" >25</text>
<line x1="242.7" y1="251" x2="298.5" y2="251" stroke="#111" stroke-width="1.3"/>
<line x1="270.8" y1="251" x2="270.8" y2="254.2" stroke="#111" stroke-width="1.0"/>
<text x="270.8" y="264.6" font-size="8.9" text-anchor="middle" fill="#111" textLength="17.8" lengthAdjust="spacingAndGlyphs">MEP</text>
<text transform="translate(219,211.8) rotate(-90)" x="0" y="3.31" font-size="9.2" text-anchor="middle" fill="#111" stroke="#111" stroke-width="0.28" textLength="91" lengthAdjust="spacingAndGlyphs">Percentage of CD34+ cells (%)</text>
<line x1="348.8" y1="171.6" x2="348.8" y2="251.6" stroke="#111" stroke-width="1.3"/>
<line x1="347" y1="251" x2="348.8" y2="251" stroke="#111" stroke-width="0.8"/>
<line x1="347" y1="247.16" x2="348.8" y2="247.16" stroke="#111" stroke-width="0.8"/>
<line x1="347" y1="243.33" x2="348.8" y2="243.33" stroke="#111" stroke-width="0.8"/>
<line x1="347" y1="239.5" x2="348.8" y2="239.5" stroke="#111" stroke-width="0.8"/>
<line x1="347" y1="235.66" x2="348.8" y2="235.66" stroke="#111" stroke-width="0.8"/>
<line x1="347" y1="231.82" x2="348.8" y2="231.82" stroke="#111" stroke-width="0.8"/>
<line x1="347" y1="227.99" x2="348.8" y2="227.99" stroke="#111" stroke-width="0.8"/>
<line x1="347" y1="224.16" x2="348.8" y2="224.16" stroke="#111" stroke-width="0.8"/>
<line x1="347" y1="220.32" x2="348.8" y2="220.32" stroke="#111" stroke-width="0.8"/>
<line x1="347" y1="216.49" x2="348.8" y2="216.49" stroke="#111" stroke-width="0.8"/>
<line x1="347" y1="212.65" x2="348.8" y2="212.65" stroke="#111" stroke-width="0.8"/>
<line x1="347" y1="208.81" x2="348.8" y2="208.81" stroke="#111" stroke-width="0.8"/>
<line x1="347" y1="204.98" x2="348.8" y2="204.98" stroke="#111" stroke-width="0.8"/>
<line x1="347" y1="201.14" x2="348.8" y2="201.14" stroke="#111" stroke-width="0.8"/>
<line x1="347" y1="197.31" x2="348.8" y2="197.31" stroke="#111" stroke-width="0.8"/>
<line x1="347" y1="193.47" x2="348.8" y2="193.47" stroke="#111" stroke-width="0.8"/>
<line x1="347" y1="189.64" x2="348.8" y2="189.64" stroke="#111" stroke-width="0.8"/>
<line x1="347" y1="185.8" x2="348.8" y2="185.8" stroke="#111" stroke-width="0.8"/>
<line x1="347" y1="181.97" x2="348.8" y2="181.97" stroke="#111" stroke-width="0.8"/>
<line x1="347" y1="178.13" x2="348.8" y2="178.13" stroke="#111" stroke-width="0.8"/>
<line x1="347" y1="174.3" x2="348.8" y2="174.3" stroke="#111" stroke-width="0.8"/>
<line x1="345.3" y1="251" x2="348.8" y2="251" stroke="#111" stroke-width="1.0"/>
<text x="343.8" y="254.2" font-size="8.6" text-anchor="end" font-weight="normal" fill="#222" >0.00</text>
<line x1="345.3" y1="231.82" x2="348.8" y2="231.82" stroke="#111" stroke-width="1.0"/>
<text x="343.8" y="235.02" font-size="8.6" text-anchor="end" font-weight="normal" fill="#222" >0.02</text>
<line x1="345.3" y1="212.65" x2="348.8" y2="212.65" stroke="#111" stroke-width="1.0"/>
<text x="343.8" y="215.85" font-size="8.6" text-anchor="end" font-weight="normal" fill="#222" >0.04</text>
<line x1="345.3" y1="193.48" x2="348.8" y2="193.48" stroke="#111" stroke-width="1.0"/>
<text x="343.8" y="196.68" font-size="8.6" text-anchor="end" font-weight="normal" fill="#222" >0.06</text>
<line x1="345.3" y1="174.3" x2="348.8" y2="174.3" stroke="#111" stroke-width="1.0"/>
<text x="343.8" y="177.5" font-size="8.6" text-anchor="end" font-weight="normal" fill="#222" >0.08</text>
<line x1="348.8" y1="251" x2="404" y2="251" stroke="#111" stroke-width="1.3"/>
<line x1="375.7" y1="251" x2="375.7" y2="254.2" stroke="#111" stroke-width="1.0"/>
<text x="375.7" y="264.6" font-size="8.9" text-anchor="middle" fill="#111" textLength="15.8" lengthAdjust="spacingAndGlyphs">CLP</text>
<text transform="translate(319,211.65) rotate(-90)" x="0" y="3.31" font-size="9.2" text-anchor="middle" fill="#111" stroke="#111" stroke-width="0.28" textLength="91" lengthAdjust="spacingAndGlyphs">Percentage of CD34+ cells (%)</text>
<line x1="440.6" y1="171.6" x2="440.6" y2="251.6" stroke="#111" stroke-width="1.3"/>
<line x1="438.8" y1="251" x2="440.6" y2="251" stroke="#111" stroke-width="0.8"/>
<line x1="438.8" y1="247.93" x2="440.6" y2="247.93" stroke="#111" stroke-width="0.8"/>
<line x1="438.8" y1="244.86" x2="440.6" y2="244.86" stroke="#111" stroke-width="0.8"/>
<line x1="438.8" y1="241.8" x2="440.6" y2="241.8" stroke="#111" stroke-width="0.8"/>
<line x1="438.8" y1="238.73" x2="440.6" y2="238.73" stroke="#111" stroke-width="0.8"/>
<line x1="438.8" y1="235.66" x2="440.6" y2="235.66" stroke="#111" stroke-width="0.8"/>
<line x1="438.8" y1="232.59" x2="440.6" y2="232.59" stroke="#111" stroke-width="0.8"/>
<line x1="438.8" y1="229.52" x2="440.6" y2="229.52" stroke="#111" stroke-width="0.8"/>
<line x1="438.8" y1="226.46" x2="440.6" y2="226.46" stroke="#111" stroke-width="0.8"/>
<line x1="438.8" y1="223.39" x2="440.6" y2="223.39" stroke="#111" stroke-width="0.8"/>
<line x1="438.8" y1="220.32" x2="440.6" y2="220.32" stroke="#111" stroke-width="0.8"/>
<line x1="438.8" y1="217.25" x2="440.6" y2="217.25" stroke="#111" stroke-width="0.8"/>
<line x1="438.8" y1="214.18" x2="440.6" y2="214.18" stroke="#111" stroke-width="0.8"/>
<line x1="438.8" y1="211.12" x2="440.6" y2="211.12" stroke="#111" stroke-width="0.8"/>
<line x1="438.8" y1="208.05" x2="440.6" y2="208.05" stroke="#111" stroke-width="0.8"/>
<line x1="438.8" y1="204.98" x2="440.6" y2="204.98" stroke="#111" stroke-width="0.8"/>
<line x1="438.8" y1="201.91" x2="440.6" y2="201.91" stroke="#111" stroke-width="0.8"/>
<line x1="438.8" y1="198.84" x2="440.6" y2="198.84" stroke="#111" stroke-width="0.8"/>
<line x1="438.8" y1="195.78" x2="440.6" y2="195.78" stroke="#111" stroke-width="0.8"/>
<line x1="438.8" y1="192.71" x2="440.6" y2="192.71" stroke="#111" stroke-width="0.8"/>
<line x1="438.8" y1="189.64" x2="440.6" y2="189.64" stroke="#111" stroke-width="0.8"/>
<line x1="438.8" y1="186.57" x2="440.6" y2="186.57" stroke="#111" stroke-width="0.8"/>
<line x1="438.8" y1="183.5" x2="440.6" y2="183.5" stroke="#111" stroke-width="0.8"/>
<line x1="438.8" y1="180.44" x2="440.6" y2="180.44" stroke="#111" stroke-width="0.8"/>
<line x1="438.8" y1="177.37" x2="440.6" y2="177.37" stroke="#111" stroke-width="0.8"/>
<line x1="438.8" y1="174.3" x2="440.6" y2="174.3" stroke="#111" stroke-width="0.8"/>
<line x1="437.1" y1="251" x2="440.6" y2="251" stroke="#111" stroke-width="1.0"/>
<text x="435.6" y="254.2" font-size="8.6" text-anchor="end" font-weight="normal" fill="#222" >0</text>
<line x1="437.1" y1="235.66" x2="440.6" y2="235.66" stroke="#111" stroke-width="1.0"/>
<text x="435.6" y="238.86" font-size="8.6" text-anchor="end" font-weight="normal" fill="#222" >1</text>
<line x1="437.1" y1="220.32" x2="440.6" y2="220.32" stroke="#111" stroke-width="1.0"/>
<text x="435.6" y="223.52" font-size="8.6" text-anchor="end" font-weight="normal" fill="#222" >2</text>
<line x1="437.1" y1="204.98" x2="440.6" y2="204.98" stroke="#111" stroke-width="1.0"/>
<text x="435.6" y="208.18" font-size="8.6" text-anchor="end" font-weight="normal" fill="#222" >3</text>
<line x1="437.1" y1="189.64" x2="440.6" y2="189.64" stroke="#111" stroke-width="1.0"/>
<text x="435.6" y="192.84" font-size="8.6" text-anchor="end" font-weight="normal" fill="#222" >4</text>
<line x1="437.1" y1="174.3" x2="440.6" y2="174.3" stroke="#111" stroke-width="1.0"/>
<text x="435.6" y="177.5" font-size="8.6" text-anchor="end" font-weight="normal" fill="#222" >5</text>
<line x1="440.6" y1="251" x2="497.7" y2="251" stroke="#111" stroke-width="1.3"/>
<line x1="469.5" y1="251" x2="469.5" y2="254.2" stroke="#111" stroke-width="1.0"/>
<text x="469.5" y="264.6" font-size="8.9" text-anchor="middle" fill="#111" textLength="33.8" lengthAdjust="spacingAndGlyphs">pro-B/NK</text>
<text transform="translate(419.5,211.65) rotate(-90)" x="0" y="3.31" font-size="9.2" text-anchor="middle" fill="#111" stroke="#111" stroke-width="0.28" textLength="91" lengthAdjust="spacingAndGlyphs">Percentage of CD34+ cells (%)</text>
<line x1="135.4" y1="123.3" x2="308.5" y2="123.3" stroke="#111" stroke-width="1.3"/>
<text x="205" y="134.6" font-size="8.7" text-anchor="start" fill="#111" stroke="#111" stroke-width="0.3" textLength="32.9" lengthAdjust="spacingAndGlyphs">multipotent</text>
<line x1="36.9" y1="268.7" x2="299.2" y2="268.7" stroke="#111" stroke-width="1.3"/>
<text x="156.9" y="279.8" font-size="8.7" text-anchor="start" fill="#111" stroke="#111" stroke-width="0.3" textLength="21.9" lengthAdjust="spacingAndGlyphs">myeloid</text>
<line x1="319.4" y1="268.7" x2="497.9" y2="268.7" stroke="#111" stroke-width="1.3"/>
<text x="367.7" y="280" font-size="8.7" text-anchor="start" fill="#111" stroke="#111" stroke-width="0.3" textLength="82.3" lengthAdjust="spacingAndGlyphs">lymphoid / lymphoid-primed</text>
<line x1="20" y1="297.5" x2="495.8" y2="297.5" stroke="#111" stroke-width="1.3"/>
<line x1="20" y1="427.5" x2="495.8" y2="427.5" stroke="#111" stroke-width="1.3"/>
<line x1="57.3" y1="318.2" x2="57.3" y2="397.9" stroke="#111" stroke-width="1.3"/>
<line x1="55.5" y1="397.3" x2="57.3" y2="397.3" stroke="#111" stroke-width="0.8"/>
<line x1="55.5" y1="393.48" x2="57.3" y2="393.48" stroke="#111" stroke-width="0.8"/>
<line x1="55.5" y1="389.66" x2="57.3" y2="389.66" stroke="#111" stroke-width="0.8"/>
<line x1="55.5" y1="385.84" x2="57.3" y2="385.84" stroke="#111" stroke-width="0.8"/>
<line x1="55.5" y1="382.02" x2="57.3" y2="382.02" stroke="#111" stroke-width="0.8"/>
<line x1="55.5" y1="378.2" x2="57.3" y2="378.2" stroke="#111" stroke-width="0.8"/>
<line x1="55.5" y1="374.38" x2="57.3" y2="374.38" stroke="#111" stroke-width="0.8"/>
<line x1="55.5" y1="370.56" x2="57.3" y2="370.56" stroke="#111" stroke-width="0.8"/>
<line x1="55.5" y1="366.74" x2="57.3" y2="366.74" stroke="#111" stroke-width="0.8"/>
<line x1="55.5" y1="362.92" x2="57.3" y2="362.92" stroke="#111" stroke-width="0.8"/>
<line x1="55.5" y1="359.1" x2="57.3" y2="359.1" stroke="#111" stroke-width="0.8"/>
<line x1="55.5" y1="355.28" x2="57.3" y2="355.28" stroke="#111" stroke-width="0.8"/>
<line x1="55.5" y1="351.46" x2="57.3" y2="351.46" stroke="#111" stroke-width="0.8"/>
<line x1="55.5" y1="347.64" x2="57.3" y2="347.64" stroke="#111" stroke-width="0.8"/>
<line x1="55.5" y1="343.82" x2="57.3" y2="343.82" stroke="#111" stroke-width="0.8"/>
<line x1="55.5" y1="340" x2="57.3" y2="340" stroke="#111" stroke-width="0.8"/>
<line x1="55.5" y1="336.18" x2="57.3" y2="336.18" stroke="#111" stroke-width="0.8"/>
<line x1="55.5" y1="332.36" x2="57.3" y2="332.36" stroke="#111" stroke-width="0.8"/>
<line x1="55.5" y1="328.54" x2="57.3" y2="328.54" stroke="#111" stroke-width="0.8"/>
<line x1="55.5" y1="324.72" x2="57.3" y2="324.72" stroke="#111" stroke-width="0.8"/>
<line x1="55.5" y1="320.9" x2="57.3" y2="320.9" stroke="#111" stroke-width="0.8"/>
<line x1="53.8" y1="397.3" x2="57.3" y2="397.3" stroke="#111" stroke-width="1.0"/>
<text x="52.3" y="400.5" font-size="8.6" text-anchor="end" font-weight="normal" fill="#222" >0</text>
<line x1="53.8" y1="378.2" x2="57.3" y2="378.2" stroke="#111" stroke-width="1.0"/>
<text x="52.1" y="382.1" font-size="8.6" text-anchor="end" fill="#222">2×10<tspan font-size="6.0" dy="-3.5">6</tspan></text>
<line x1="53.8" y1="359.1" x2="57.3" y2="359.1" stroke="#111" stroke-width="1.0"/>
<text x="52.1" y="363" font-size="8.6" text-anchor="end" fill="#222">4×10<tspan font-size="6.0" dy="-3.5">6</tspan></text>
<line x1="53.8" y1="340" x2="57.3" y2="340" stroke="#111" stroke-width="1.0"/>
<text x="52.1" y="343.9" font-size="8.6" text-anchor="end" fill="#222">6×10<tspan font-size="6.0" dy="-3.5">6</tspan></text>
<line x1="53.8" y1="320.9" x2="57.3" y2="320.9" stroke="#111" stroke-width="1.0"/>
<text x="52.1" y="324.8" font-size="8.6" text-anchor="end" fill="#222">8×10<tspan font-size="6.0" dy="-3.5">6</tspan></text>
<line x1="57.3" y1="397.3" x2="106.25" y2="397.3" stroke="#111" stroke-width="1.3"/>
<line x1="82" y1="397.3" x2="82" y2="400.5" stroke="#111" stroke-width="1.0"/>
<text x="82.6" y="410.8" font-size="8.9" text-anchor="middle" fill="#111" textLength="28" lengthAdjust="spacingAndGlyphs">CD34+</text>
<text transform="translate(20.7,357.3) rotate(-90)" x="0" y="3.74" font-size="10.4" text-anchor="middle" fill="#111" stroke="#111" stroke-width="0.28" textLength="55.5" lengthAdjust="spacingAndGlyphs">Absolute cell count</text>
<line x1="164.5" y1="318.2" x2="164.5" y2="397.9" stroke="#111" stroke-width="1.3"/>
<line x1="162.7" y1="397.3" x2="164.5" y2="397.3" stroke="#111" stroke-width="0.8"/>
<line x1="162.7" y1="394.24" x2="164.5" y2="394.24" stroke="#111" stroke-width="0.8"/>
<line x1="162.7" y1="391.19" x2="164.5" y2="391.19" stroke="#111" stroke-width="0.8"/>
<line x1="162.7" y1="388.13" x2="164.5" y2="388.13" stroke="#111" stroke-width="0.8"/>
<line x1="162.7" y1="385.08" x2="164.5" y2="385.08" stroke="#111" stroke-width="0.8"/>
<line x1="162.7" y1="382.02" x2="164.5" y2="382.02" stroke="#111" stroke-width="0.8"/>
<line x1="162.7" y1="378.96" x2="164.5" y2="378.96" stroke="#111" stroke-width="0.8"/>
<line x1="162.7" y1="375.91" x2="164.5" y2="375.91" stroke="#111" stroke-width="0.8"/>
<line x1="162.7" y1="372.85" x2="164.5" y2="372.85" stroke="#111" stroke-width="0.8"/>
<line x1="162.7" y1="369.8" x2="164.5" y2="369.8" stroke="#111" stroke-width="0.8"/>
<line x1="162.7" y1="366.74" x2="164.5" y2="366.74" stroke="#111" stroke-width="0.8"/>
<line x1="162.7" y1="363.68" x2="164.5" y2="363.68" stroke="#111" stroke-width="0.8"/>
<line x1="162.7" y1="360.63" x2="164.5" y2="360.63" stroke="#111" stroke-width="0.8"/>
<line x1="162.7" y1="357.57" x2="164.5" y2="357.57" stroke="#111" stroke-width="0.8"/>
<line x1="162.7" y1="354.52" x2="164.5" y2="354.52" stroke="#111" stroke-width="0.8"/>
<line x1="162.7" y1="351.46" x2="164.5" y2="351.46" stroke="#111" stroke-width="0.8"/>
<line x1="162.7" y1="348.4" x2="164.5" y2="348.4" stroke="#111" stroke-width="0.8"/>
<line x1="162.7" y1="345.35" x2="164.5" y2="345.35" stroke="#111" stroke-width="0.8"/>
<line x1="162.7" y1="342.29" x2="164.5" y2="342.29" stroke="#111" stroke-width="0.8"/>
<line x1="162.7" y1="339.24" x2="164.5" y2="339.24" stroke="#111" stroke-width="0.8"/>
<line x1="162.7" y1="336.18" x2="164.5" y2="336.18" stroke="#111" stroke-width="0.8"/>
<line x1="162.7" y1="333.12" x2="164.5" y2="333.12" stroke="#111" stroke-width="0.8"/>
<line x1="162.7" y1="330.07" x2="164.5" y2="330.07" stroke="#111" stroke-width="0.8"/>
<line x1="162.7" y1="327.01" x2="164.5" y2="327.01" stroke="#111" stroke-width="0.8"/>
<line x1="162.7" y1="323.96" x2="164.5" y2="323.96" stroke="#111" stroke-width="0.8"/>
<line x1="162.7" y1="320.9" x2="164.5" y2="320.9" stroke="#111" stroke-width="0.8"/>
<line x1="161" y1="397.3" x2="164.5" y2="397.3" stroke="#111" stroke-width="1.0"/>
<text x="159.5" y="400.5" font-size="8.6" text-anchor="end" font-weight="normal" fill="#222" >0</text>
<line x1="161" y1="382.02" x2="164.5" y2="382.02" stroke="#111" stroke-width="1.0"/>
<text x="159.3" y="385.92" font-size="8.6" text-anchor="end" fill="#222">2×10<tspan font-size="6.0" dy="-3.5">5</tspan></text>
<line x1="161" y1="366.74" x2="164.5" y2="366.74" stroke="#111" stroke-width="1.0"/>
<text x="159.3" y="370.64" font-size="8.6" text-anchor="end" fill="#222">4×10<tspan font-size="6.0" dy="-3.5">5</tspan></text>
<line x1="161" y1="351.46" x2="164.5" y2="351.46" stroke="#111" stroke-width="1.0"/>
<text x="159.3" y="355.36" font-size="8.6" text-anchor="end" fill="#222">6×10<tspan font-size="6.0" dy="-3.5">5</tspan></text>
<line x1="161" y1="336.18" x2="164.5" y2="336.18" stroke="#111" stroke-width="1.0"/>
<text x="159.3" y="340.08" font-size="8.6" text-anchor="end" fill="#222">8×10<tspan font-size="6.0" dy="-3.5">5</tspan></text>
<line x1="161" y1="320.9" x2="164.5" y2="320.9" stroke="#111" stroke-width="1.0"/>
<text x="159.3" y="324.8" font-size="8.6" text-anchor="end" fill="#222">1×10<tspan font-size="6.0" dy="-3.5">6</tspan></text>
<line x1="164.5" y1="397.3" x2="213.75" y2="397.3" stroke="#111" stroke-width="1.3"/>
<line x1="189.5" y1="397.3" x2="189.5" y2="400.5" stroke="#111" stroke-width="1.0"/>
<text x="189.5" y="410.8" font-size="8.9" text-anchor="middle" fill="#111" textLength="17.9" lengthAdjust="spacingAndGlyphs">HSC</text>
<text transform="translate(128.9,357.3) rotate(-90)" x="0" y="3.74" font-size="10.4" text-anchor="middle" fill="#111" stroke="#111" stroke-width="0.28" textLength="55.5" lengthAdjust="spacingAndGlyphs">Absolute cell count</text>
<line x1="272.5" y1="318.2" x2="272.5" y2="397.9" stroke="#111" stroke-width="1.3"/>
<line x1="270.7" y1="397.3" x2="272.5" y2="397.3" stroke="#111" stroke-width="0.8"/>
<line x1="270.7" y1="393.48" x2="272.5" y2="393.48" stroke="#111" stroke-width="0.8"/>
<line x1="270.7" y1="389.66" x2="272.5" y2="389.66" stroke="#111" stroke-width="0.8"/>
<line x1="270.7" y1="385.84" x2="272.5" y2="385.84" stroke="#111" stroke-width="0.8"/>
<line x1="270.7" y1="382.02" x2="272.5" y2="382.02" stroke="#111" stroke-width="0.8"/>
<line x1="270.7" y1="378.2" x2="272.5" y2="378.2" stroke="#111" stroke-width="0.8"/>
<line x1="270.7" y1="374.38" x2="272.5" y2="374.38" stroke="#111" stroke-width="0.8"/>
<line x1="270.7" y1="370.56" x2="272.5" y2="370.56" stroke="#111" stroke-width="0.8"/>
<line x1="270.7" y1="366.74" x2="272.5" y2="366.74" stroke="#111" stroke-width="0.8"/>
<line x1="270.7" y1="362.92" x2="272.5" y2="362.92" stroke="#111" stroke-width="0.8"/>
<line x1="270.7" y1="359.1" x2="272.5" y2="359.1" stroke="#111" stroke-width="0.8"/>
<line x1="270.7" y1="355.28" x2="272.5" y2="355.28" stroke="#111" stroke-width="0.8"/>
<line x1="270.7" y1="351.46" x2="272.5" y2="351.46" stroke="#111" stroke-width="0.8"/>
<line x1="270.7" y1="347.64" x2="272.5" y2="347.64" stroke="#111" stroke-width="0.8"/>
<line x1="270.7" y1="343.82" x2="272.5" y2="343.82" stroke="#111" stroke-width="0.8"/>
<line x1="270.7" y1="340" x2="272.5" y2="340" stroke="#111" stroke-width="0.8"/>
<line x1="270.7" y1="336.18" x2="272.5" y2="336.18" stroke="#111" stroke-width="0.8"/>
<line x1="270.7" y1="332.36" x2="272.5" y2="332.36" stroke="#111" stroke-width="0.8"/>
<line x1="270.7" y1="328.54" x2="272.5" y2="328.54" stroke="#111" stroke-width="0.8"/>
<line x1="270.7" y1="324.72" x2="272.5" y2="324.72" stroke="#111" stroke-width="0.8"/>
<line x1="270.7" y1="320.9" x2="272.5" y2="320.9" stroke="#111" stroke-width="0.8"/>
<line x1="269" y1="397.3" x2="272.5" y2="397.3" stroke="#111" stroke-width="1.0"/>
<text x="267.5" y="400.5" font-size="8.6" text-anchor="end" font-weight="normal" fill="#222" >0</text>
<line x1="269" y1="378.2" x2="272.5" y2="378.2" stroke="#111" stroke-width="1.0"/>
<text x="267.3" y="382.1" font-size="8.6" text-anchor="end" fill="#222">5×10<tspan font-size="6.0" dy="-3.5">5</tspan></text>
<line x1="269" y1="359.1" x2="272.5" y2="359.1" stroke="#111" stroke-width="1.0"/>
<text x="267.3" y="363" font-size="8.6" text-anchor="end" fill="#222">1×10<tspan font-size="6.0" dy="-3.5">6</tspan></text>
<line x1="269" y1="340" x2="272.5" y2="340" stroke="#111" stroke-width="1.0"/>
<text x="267.3" y="343.9" font-size="8.6" text-anchor="end" fill="#222">2×10<tspan font-size="6.0" dy="-3.5">6</tspan></text>
<line x1="269" y1="320.9" x2="272.5" y2="320.9" stroke="#111" stroke-width="1.0"/>
<text x="267.3" y="324.8" font-size="8.6" text-anchor="end" fill="#222">2×10<tspan font-size="6.0" dy="-3.5">6</tspan></text>
<line x1="272.5" y1="397.3" x2="321.25" y2="397.3" stroke="#111" stroke-width="1.3"/>
<line x1="297" y1="397.3" x2="297" y2="400.5" stroke="#111" stroke-width="1.0"/>
<text x="297" y="410.8" font-size="8.9" text-anchor="middle" fill="#111" textLength="19.8" lengthAdjust="spacingAndGlyphs">CMP</text>
<text transform="translate(235.7,357.3) rotate(-90)" x="0" y="3.74" font-size="10.4" text-anchor="middle" fill="#111" stroke="#111" stroke-width="0.28" textLength="55.5" lengthAdjust="spacingAndGlyphs">Absolute cell count</text>
<line x1="370.9" y1="317.8" x2="370.9" y2="397.9" stroke="#111" stroke-width="1.3"/>
<line x1="369.1" y1="397.3" x2="370.9" y2="397.3" stroke="#111" stroke-width="0.8"/>
<line x1="369.1" y1="393.46" x2="370.9" y2="393.46" stroke="#111" stroke-width="0.8"/>
<line x1="369.1" y1="389.62" x2="370.9" y2="389.62" stroke="#111" stroke-width="0.8"/>
<line x1="369.1" y1="385.78" x2="370.9" y2="385.78" stroke="#111" stroke-width="0.8"/>
<line x1="369.1" y1="381.94" x2="370.9" y2="381.94" stroke="#111" stroke-width="0.8"/>
<line x1="369.1" y1="378.1" x2="370.9" y2="378.1" stroke="#111" stroke-width="0.8"/>
<line x1="369.1" y1="374.26" x2="370.9" y2="374.26" stroke="#111" stroke-width="0.8"/>
<line x1="369.1" y1="370.42" x2="370.9" y2="370.42" stroke="#111" stroke-width="0.8"/>
<line x1="369.1" y1="366.58" x2="370.9" y2="366.58" stroke="#111" stroke-width="0.8"/>
<line x1="369.1" y1="362.74" x2="370.9" y2="362.74" stroke="#111" stroke-width="0.8"/>
<line x1="369.1" y1="358.9" x2="370.9" y2="358.9" stroke="#111" stroke-width="0.8"/>
<line x1="369.1" y1="355.06" x2="370.9" y2="355.06" stroke="#111" stroke-width="0.8"/>
<line x1="369.1" y1="351.22" x2="370.9" y2="351.22" stroke="#111" stroke-width="0.8"/>
<line x1="369.1" y1="347.38" x2="370.9" y2="347.38" stroke="#111" stroke-width="0.8"/>
<line x1="369.1" y1="343.54" x2="370.9" y2="343.54" stroke="#111" stroke-width="0.8"/>
<line x1="369.1" y1="339.7" x2="370.9" y2="339.7" stroke="#111" stroke-width="0.8"/>
<line x1="369.1" y1="335.86" x2="370.9" y2="335.86" stroke="#111" stroke-width="0.8"/>
<line x1="369.1" y1="332.02" x2="370.9" y2="332.02" stroke="#111" stroke-width="0.8"/>
<line x1="369.1" y1="328.18" x2="370.9" y2="328.18" stroke="#111" stroke-width="0.8"/>
<line x1="369.1" y1="324.34" x2="370.9" y2="324.34" stroke="#111" stroke-width="0.8"/>
<line x1="369.1" y1="320.5" x2="370.9" y2="320.5" stroke="#111" stroke-width="0.8"/>
<line x1="367.4" y1="397.3" x2="370.9" y2="397.3" stroke="#111" stroke-width="1.0"/>
<text x="365.9" y="400.5" font-size="8.6" text-anchor="end" font-weight="normal" fill="#222" >0</text>
<line x1="367.4" y1="378.1" x2="370.9" y2="378.1" stroke="#111" stroke-width="1.0"/>
<text x="365.9" y="381.3" font-size="8.6" text-anchor="end" font-weight="normal" fill="#222" >200</text>
<line x1="367.4" y1="358.9" x2="370.9" y2="358.9" stroke="#111" stroke-width="1.0"/>
<text x="365.9" y="362.1" font-size="8.6" text-anchor="end" font-weight="normal" fill="#222" >400</text>
<line x1="367.4" y1="339.7" x2="370.9" y2="339.7" stroke="#111" stroke-width="1.0"/>
<text x="365.9" y="342.9" font-size="8.6" text-anchor="end" font-weight="normal" fill="#222" >600</text>
<line x1="367.4" y1="320.5" x2="370.9" y2="320.5" stroke="#111" stroke-width="1.0"/>
<text x="365.9" y="323.7" font-size="8.6" text-anchor="end" font-weight="normal" fill="#222" >800</text>
<line x1="370.9" y1="397.3" x2="423.75" y2="397.3" stroke="#111" stroke-width="1.3"/>
<line x1="397.5" y1="397.3" x2="397.5" y2="400.5" stroke="#111" stroke-width="1.0"/>
<text x="397.5" y="410.8" font-size="8.9" text-anchor="middle" fill="#111" textLength="15.8" lengthAdjust="spacingAndGlyphs">CLP</text>
<text transform="translate(343.7,357.1) rotate(-90)" x="0" y="3.74" font-size="10.4" text-anchor="middle" fill="#111" stroke="#111" stroke-width="0.28" textLength="55.5" lengthAdjust="spacingAndGlyphs">Absolute cell count</text>
<line x1="43" y1="449.6" x2="43" y2="525.9" stroke="#111" stroke-width="1.3"/>
<line x1="41.2" y1="525.3" x2="43" y2="525.3" stroke="#111" stroke-width="0.8"/>
<line x1="41.2" y1="521.65" x2="43" y2="521.65" stroke="#111" stroke-width="0.8"/>
<line x1="41.2" y1="518" x2="43" y2="518" stroke="#111" stroke-width="0.8"/>
<line x1="41.2" y1="514.35" x2="43" y2="514.35" stroke="#111" stroke-width="0.8"/>
<line x1="41.2" y1="510.7" x2="43" y2="510.7" stroke="#111" stroke-width="0.8"/>
<line x1="41.2" y1="507.05" x2="43" y2="507.05" stroke="#111" stroke-width="0.8"/>
<line x1="41.2" y1="503.4" x2="43" y2="503.4" stroke="#111" stroke-width="0.8"/>
<line x1="41.2" y1="499.75" x2="43" y2="499.75" stroke="#111" stroke-width="0.8"/>
<line x1="41.2" y1="496.1" x2="43" y2="496.1" stroke="#111" stroke-width="0.8"/>
<line x1="41.2" y1="492.45" x2="43" y2="492.45" stroke="#111" stroke-width="0.8"/>
<line x1="41.2" y1="488.8" x2="43" y2="488.8" stroke="#111" stroke-width="0.8"/>
<line x1="41.2" y1="485.15" x2="43" y2="485.15" stroke="#111" stroke-width="0.8"/>
<line x1="41.2" y1="481.5" x2="43" y2="481.5" stroke="#111" stroke-width="0.8"/>
<line x1="41.2" y1="477.85" x2="43" y2="477.85" stroke="#111" stroke-width="0.8"/>
<line x1="41.2" y1="474.2" x2="43" y2="474.2" stroke="#111" stroke-width="0.8"/>
<line x1="41.2" y1="470.55" x2="43" y2="470.55" stroke="#111" stroke-width="0.8"/>
<line x1="41.2" y1="466.9" x2="43" y2="466.9" stroke="#111" stroke-width="0.8"/>
<line x1="41.2" y1="463.25" x2="43" y2="463.25" stroke="#111" stroke-width="0.8"/>
<line x1="41.2" y1="459.6" x2="43" y2="459.6" stroke="#111" stroke-width="0.8"/>
<line x1="41.2" y1="455.95" x2="43" y2="455.95" stroke="#111" stroke-width="0.8"/>
<line x1="41.2" y1="452.3" x2="43" y2="452.3" stroke="#111" stroke-width="0.8"/>
<line x1="39.5" y1="525.3" x2="43" y2="525.3" stroke="#111" stroke-width="1.0"/>
<text x="37.2" y="528.2" font-size="8.8" text-anchor="end" font-weight="normal" fill="#222" >0</text>
<line x1="39.5" y1="507.05" x2="43" y2="507.05" stroke="#111" stroke-width="1.0"/>
<text x="37.2" y="509.95" font-size="8.8" text-anchor="end" font-weight="normal" fill="#222" >5</text>
<line x1="39.5" y1="488.8" x2="43" y2="488.8" stroke="#111" stroke-width="1.0"/>
<text x="37.2" y="491.7" font-size="8.8" text-anchor="end" font-weight="normal" fill="#222" >10</text>
<line x1="39.5" y1="470.55" x2="43" y2="470.55" stroke="#111" stroke-width="1.0"/>
<text x="37.2" y="473.45" font-size="8.8" text-anchor="end" font-weight="normal" fill="#222" >15</text>
<line x1="39.5" y1="452.3" x2="43" y2="452.3" stroke="#111" stroke-width="1.0"/>
<text x="37.2" y="455.2" font-size="8.8" text-anchor="end" font-weight="normal" fill="#222" >20</text>
<line x1="43" y1="525.3" x2="155.3" y2="525.3" stroke="#111" stroke-width="1.3"/>
<line x1="43" y1="525.3" x2="43" y2="527.1" stroke="#111" stroke-width="0.8"/>
<line x1="47.39" y1="525.3" x2="47.39" y2="527.1" stroke="#111" stroke-width="0.8"/>
<line x1="51.78" y1="525.3" x2="51.78" y2="527.1" stroke="#111" stroke-width="0.8"/>
<line x1="56.16" y1="525.3" x2="56.16" y2="527.1" stroke="#111" stroke-width="0.8"/>
<line x1="60.55" y1="525.3" x2="60.55" y2="527.1" stroke="#111" stroke-width="0.8"/>
<line x1="64.94" y1="525.3" x2="64.94" y2="527.1" stroke="#111" stroke-width="0.8"/>
<line x1="69.33" y1="525.3" x2="69.33" y2="527.1" stroke="#111" stroke-width="0.8"/>
<line x1="73.72" y1="525.3" x2="73.72" y2="527.1" stroke="#111" stroke-width="0.8"/>
<line x1="78.1" y1="525.3" x2="78.1" y2="527.1" stroke="#111" stroke-width="0.8"/>
<line x1="82.49" y1="525.3" x2="82.49" y2="527.1" stroke="#111" stroke-width="0.8"/>
<line x1="86.88" y1="525.3" x2="86.88" y2="527.1" stroke="#111" stroke-width="0.8"/>
<line x1="91.27" y1="525.3" x2="91.27" y2="527.1" stroke="#111" stroke-width="0.8"/>
<line x1="95.66" y1="525.3" x2="95.66" y2="527.1" stroke="#111" stroke-width="0.8"/>
<line x1="100.04" y1="525.3" x2="100.04" y2="527.1" stroke="#111" stroke-width="0.8"/>
<line x1="104.43" y1="525.3" x2="104.43" y2="527.1" stroke="#111" stroke-width="0.8"/>
<line x1="108.82" y1="525.3" x2="108.82" y2="527.1" stroke="#111" stroke-width="0.8"/>
<line x1="113.21" y1="525.3" x2="113.21" y2="527.1" stroke="#111" stroke-width="0.8"/>
<line x1="117.6" y1="525.3" x2="117.6" y2="527.1" stroke="#111" stroke-width="0.8"/>
<line x1="121.98" y1="525.3" x2="121.98" y2="527.1" stroke="#111" stroke-width="0.8"/>
<line x1="126.37" y1="525.3" x2="126.37" y2="527.1" stroke="#111" stroke-width="0.8"/>
<line x1="130.76" y1="525.3" x2="130.76" y2="527.1" stroke="#111" stroke-width="0.8"/>
<line x1="135.15" y1="525.3" x2="135.15" y2="527.1" stroke="#111" stroke-width="0.8"/>
<line x1="139.54" y1="525.3" x2="139.54" y2="527.1" stroke="#111" stroke-width="0.8"/>
<line x1="143.92" y1="525.3" x2="143.92" y2="527.1" stroke="#111" stroke-width="0.8"/>
<line x1="148.31" y1="525.3" x2="148.31" y2="527.1" stroke="#111" stroke-width="0.8"/>
<line x1="152.7" y1="525.3" x2="152.7" y2="527.1" stroke="#111" stroke-width="0.8"/>
<line x1="43" y1="525.3" x2="43" y2="528.8" stroke="#111" stroke-width="1.0"/>
<text x="43" y="538.7" font-size="8.8" text-anchor="middle" font-weight="normal" fill="#222" >50</text>
<line x1="64.94" y1="525.3" x2="64.94" y2="528.8" stroke="#111" stroke-width="1.0"/>
<text x="64.94" y="538.7" font-size="8.8" text-anchor="middle" font-weight="normal" fill="#222" >60</text>
<line x1="86.88" y1="525.3" x2="86.88" y2="528.8" stroke="#111" stroke-width="1.0"/>
<text x="86.88" y="538.7" font-size="8.8" text-anchor="middle" font-weight="normal" fill="#222" >70</text>
<line x1="108.82" y1="525.3" x2="108.82" y2="528.8" stroke="#111" stroke-width="1.0"/>
<text x="108.82" y="538.7" font-size="8.8" text-anchor="middle" font-weight="normal" fill="#222" >80</text>
<line x1="130.76" y1="525.3" x2="130.76" y2="528.8" stroke="#111" stroke-width="1.0"/>
<text x="130.76" y="538.7" font-size="8.8" text-anchor="middle" font-weight="normal" fill="#222" >90</text>
<line x1="152.7" y1="525.3" x2="152.7" y2="528.8" stroke="#111" stroke-width="1.0"/>
<text x="152.7" y="538.7" font-size="8.8" text-anchor="middle" font-weight="normal" fill="#222" >100</text>
<text x="100.15" y="551.7" font-size="9.4" text-anchor="middle" fill="#111" stroke="#111" stroke-width="0.22" textLength="95" lengthAdjust="spacingAndGlyphs">CD34+ (percentage of live cells)</text>
<text transform="translate(19.9,487.8) rotate(-90)" x="0" y="3.38" font-size="9.4" text-anchor="middle" fill="#111" stroke="#111" stroke-width="0.28" textLength="86" lengthAdjust="spacingAndGlyphs">HSC (percentage of live cells)</text>
<line x1="220.7" y1="450.8" x2="220.7" y2="526.1" stroke="#111" stroke-width="1.3"/>
<line x1="218.9" y1="525.5" x2="220.7" y2="525.5" stroke="#111" stroke-width="0.8"/>
<line x1="218.9" y1="518.3" x2="220.7" y2="518.3" stroke="#111" stroke-width="0.8"/>
<line x1="218.9" y1="511.1" x2="220.7" y2="511.1" stroke="#111" stroke-width="0.8"/>
<line x1="218.9" y1="503.9" x2="220.7" y2="503.9" stroke="#111" stroke-width="0.8"/>
<line x1="218.9" y1="496.7" x2="220.7" y2="496.7" stroke="#111" stroke-width="0.8"/>
<line x1="218.9" y1="489.5" x2="220.7" y2="489.5" stroke="#111" stroke-width="0.8"/>
<line x1="218.9" y1="482.3" x2="220.7" y2="482.3" stroke="#111" stroke-width="0.8"/>
<line x1="218.9" y1="475.1" x2="220.7" y2="475.1" stroke="#111" stroke-width="0.8"/>
<line x1="218.9" y1="467.9" x2="220.7" y2="467.9" stroke="#111" stroke-width="0.8"/>
<line x1="218.9" y1="460.7" x2="220.7" y2="460.7" stroke="#111" stroke-width="0.8"/>
<line x1="218.9" y1="453.5" x2="220.7" y2="453.5" stroke="#111" stroke-width="0.8"/>
<line x1="217.2" y1="525.5" x2="220.7" y2="525.5" stroke="#111" stroke-width="1.0"/>
<text x="214.9" y="528.4" font-size="8.8" text-anchor="end" font-weight="normal" fill="#222" >0</text>
<line x1="217.2" y1="489.5" x2="220.7" y2="489.5" stroke="#111" stroke-width="1.0"/>
<text x="215.5" y="493.4" font-size="8.6" text-anchor="end" fill="#222">5×10<tspan font-size="6.0" dy="-3.5">5</tspan></text>
<line x1="217.2" y1="453.5" x2="220.7" y2="453.5" stroke="#111" stroke-width="1.0"/>
<text x="215.5" y="457.4" font-size="8.6" text-anchor="end" fill="#222">1×10<tspan font-size="6.0" dy="-3.5">6</tspan></text>
<line x1="220.7" y1="525.5" x2="324.3" y2="525.5" stroke="#111" stroke-width="1.3"/>
<line x1="220.7" y1="525.5" x2="220.7" y2="527.3" stroke="#111" stroke-width="0.8"/>
<line x1="227.06" y1="525.5" x2="227.06" y2="527.3" stroke="#111" stroke-width="0.8"/>
<line x1="233.42" y1="525.5" x2="233.42" y2="527.3" stroke="#111" stroke-width="0.8"/>
<line x1="239.79" y1="525.5" x2="239.79" y2="527.3" stroke="#111" stroke-width="0.8"/>
<line x1="246.15" y1="525.5" x2="246.15" y2="527.3" stroke="#111" stroke-width="0.8"/>
<line x1="252.51" y1="525.5" x2="252.51" y2="527.3" stroke="#111" stroke-width="0.8"/>
<line x1="258.88" y1="525.5" x2="258.88" y2="527.3" stroke="#111" stroke-width="0.8"/>
<line x1="265.24" y1="525.5" x2="265.24" y2="527.3" stroke="#111" stroke-width="0.8"/>
<line x1="271.6" y1="525.5" x2="271.6" y2="527.3" stroke="#111" stroke-width="0.8"/>
<line x1="277.96" y1="525.5" x2="277.96" y2="527.3" stroke="#111" stroke-width="0.8"/>
<line x1="284.32" y1="525.5" x2="284.32" y2="527.3" stroke="#111" stroke-width="0.8"/>
<line x1="290.69" y1="525.5" x2="290.69" y2="527.3" stroke="#111" stroke-width="0.8"/>
<line x1="297.05" y1="525.5" x2="297.05" y2="527.3" stroke="#111" stroke-width="0.8"/>
<line x1="303.41" y1="525.5" x2="303.41" y2="527.3" stroke="#111" stroke-width="0.8"/>
<line x1="309.77" y1="525.5" x2="309.77" y2="527.3" stroke="#111" stroke-width="0.8"/>
<line x1="316.14" y1="525.5" x2="316.14" y2="527.3" stroke="#111" stroke-width="0.8"/>
<line x1="322.5" y1="525.5" x2="322.5" y2="527.3" stroke="#111" stroke-width="0.8"/>
<line x1="220.7" y1="525.5" x2="220.7" y2="529" stroke="#111" stroke-width="1.0"/>
<text x="220.7" y="538.9" font-size="8.8" text-anchor="middle" font-weight="normal" fill="#222" >0</text>
<line x1="246.15" y1="525.5" x2="246.15" y2="529" stroke="#111" stroke-width="1.0"/>
<text x="246.65" y="538.5" font-size="8.6" text-anchor="middle" fill="#222">2×10<tspan font-size="6.0" dy="-3.5">6</tspan></text>
<line x1="271.6" y1="525.5" x2="271.6" y2="529" stroke="#111" stroke-width="1.0"/>
<text x="272.1" y="538.5" font-size="8.6" text-anchor="middle" fill="#222">4×10<tspan font-size="6.0" dy="-3.5">6</tspan></text>
<line x1="297.05" y1="525.5" x2="297.05" y2="529" stroke="#111" stroke-width="1.0"/>
<text x="297.55" y="538.5" font-size="8.6" text-anchor="middle" fill="#222">6×10<tspan font-size="6.0" dy="-3.5">6</tspan></text>
<line x1="322.5" y1="525.5" x2="322.5" y2="529" stroke="#111" stroke-width="1.0"/>
<text x="323" y="538.5" font-size="8.6" text-anchor="middle" fill="#222">8×10<tspan font-size="6.0" dy="-3.5">6</tspan></text>
<text x="273.5" y="551.9" font-size="9.4" text-anchor="middle" fill="#111" stroke="#111" stroke-width="0.22" textLength="82" lengthAdjust="spacingAndGlyphs">CD34+ (absolute cell count)</text>
<text transform="translate(184.5,488.5) rotate(-90)" x="0" y="3.38" font-size="9.4" text-anchor="middle" fill="#111" stroke="#111" stroke-width="0.28" textLength="76" lengthAdjust="spacingAndGlyphs">HSC (absolute cell count)</text>
<line x1="378.1" y1="449.1" x2="378.1" y2="525.8" stroke="#111" stroke-width="1.3"/>
<line x1="376.3" y1="525.2" x2="378.1" y2="525.2" stroke="#111" stroke-width="0.8"/>
<line x1="376.3" y1="521.53" x2="378.1" y2="521.53" stroke="#111" stroke-width="0.8"/>
<line x1="376.3" y1="517.86" x2="378.1" y2="517.86" stroke="#111" stroke-width="0.8"/>
<line x1="376.3" y1="514.19" x2="378.1" y2="514.19" stroke="#111" stroke-width="0.8"/>
<line x1="376.3" y1="510.52" x2="378.1" y2="510.52" stroke="#111" stroke-width="0.8"/>
<line x1="376.3" y1="506.85" x2="378.1" y2="506.85" stroke="#111" stroke-width="0.8"/>
<line x1="376.3" y1="503.18" x2="378.1" y2="503.18" stroke="#111" stroke-width="0.8"/>
<line x1="376.3" y1="499.51" x2="378.1" y2="499.51" stroke="#111" stroke-width="0.8"/>
<line x1="376.3" y1="495.84" x2="378.1" y2="495.84" stroke="#111" stroke-width="0.8"/>
<line x1="376.3" y1="492.17" x2="378.1" y2="492.17" stroke="#111" stroke-width="0.8"/>
<line x1="376.3" y1="488.5" x2="378.1" y2="488.5" stroke="#111" stroke-width="0.8"/>
<line x1="376.3" y1="484.83" x2="378.1" y2="484.83" stroke="#111" stroke-width="0.8"/>
<line x1="376.3" y1="481.16" x2="378.1" y2="481.16" stroke="#111" stroke-width="0.8"/>
<line x1="376.3" y1="477.49" x2="378.1" y2="477.49" stroke="#111" stroke-width="0.8"/>
<line x1="376.3" y1="473.82" x2="378.1" y2="473.82" stroke="#111" stroke-width="0.8"/>
<line x1="376.3" y1="470.15" x2="378.1" y2="470.15" stroke="#111" stroke-width="0.8"/>
<line x1="376.3" y1="466.48" x2="378.1" y2="466.48" stroke="#111" stroke-width="0.8"/>
<line x1="376.3" y1="462.81" x2="378.1" y2="462.81" stroke="#111" stroke-width="0.8"/>
<line x1="376.3" y1="459.14" x2="378.1" y2="459.14" stroke="#111" stroke-width="0.8"/>
<line x1="376.3" y1="455.47" x2="378.1" y2="455.47" stroke="#111" stroke-width="0.8"/>
<line x1="376.3" y1="451.8" x2="378.1" y2="451.8" stroke="#111" stroke-width="0.8"/>
<line x1="374.6" y1="525.2" x2="378.1" y2="525.2" stroke="#111" stroke-width="1.0"/>
<text x="372.3" y="528.1" font-size="8.8" text-anchor="end" font-weight="normal" fill="#222" >0</text>
<line x1="374.6" y1="506.85" x2="378.1" y2="506.85" stroke="#111" stroke-width="1.0"/>
<text x="372.3" y="509.75" font-size="8.8" text-anchor="end" font-weight="normal" fill="#222" >5</text>
<line x1="374.6" y1="488.5" x2="378.1" y2="488.5" stroke="#111" stroke-width="1.0"/>
<text x="372.3" y="491.4" font-size="8.8" text-anchor="end" font-weight="normal" fill="#222" >10</text>
<line x1="374.6" y1="470.15" x2="378.1" y2="470.15" stroke="#111" stroke-width="1.0"/>
<text x="372.3" y="473.05" font-size="8.8" text-anchor="end" font-weight="normal" fill="#222" >15</text>
<line x1="374.6" y1="451.8" x2="378.1" y2="451.8" stroke="#111" stroke-width="1.0"/>
<text x="372.3" y="454.7" font-size="8.8" text-anchor="end" font-weight="normal" fill="#222" >20</text>
<line x1="378.1" y1="525.2" x2="487.1" y2="525.2" stroke="#111" stroke-width="1.3"/>
<line x1="378.1" y1="525.2" x2="378.1" y2="527" stroke="#111" stroke-width="0.8"/>
<line x1="384.91" y1="525.2" x2="384.91" y2="527" stroke="#111" stroke-width="0.8"/>
<line x1="391.73" y1="525.2" x2="391.73" y2="527" stroke="#111" stroke-width="0.8"/>
<line x1="398.54" y1="525.2" x2="398.54" y2="527" stroke="#111" stroke-width="0.8"/>
<line x1="405.35" y1="525.2" x2="405.35" y2="527" stroke="#111" stroke-width="0.8"/>
<line x1="412.16" y1="525.2" x2="412.16" y2="527" stroke="#111" stroke-width="0.8"/>
<line x1="418.98" y1="525.2" x2="418.98" y2="527" stroke="#111" stroke-width="0.8"/>
<line x1="425.79" y1="525.2" x2="425.79" y2="527" stroke="#111" stroke-width="0.8"/>
<line x1="432.6" y1="525.2" x2="432.6" y2="527" stroke="#111" stroke-width="0.8"/>
<line x1="439.41" y1="525.2" x2="439.41" y2="527" stroke="#111" stroke-width="0.8"/>
<line x1="446.23" y1="525.2" x2="446.23" y2="527" stroke="#111" stroke-width="0.8"/>
<line x1="453.04" y1="525.2" x2="453.04" y2="527" stroke="#111" stroke-width="0.8"/>
<line x1="459.85" y1="525.2" x2="459.85" y2="527" stroke="#111" stroke-width="0.8"/>
<line x1="466.66" y1="525.2" x2="466.66" y2="527" stroke="#111" stroke-width="0.8"/>
<line x1="473.48" y1="525.2" x2="473.48" y2="527" stroke="#111" stroke-width="0.8"/>
<line x1="480.29" y1="525.2" x2="480.29" y2="527" stroke="#111" stroke-width="0.8"/>
<line x1="487.1" y1="525.2" x2="487.1" y2="527" stroke="#111" stroke-width="0.8"/>
<line x1="378.1" y1="525.2" x2="378.1" y2="528.7" stroke="#111" stroke-width="1.0"/>
<text x="378.1" y="538.6" font-size="8.8" text-anchor="middle" font-weight="normal" fill="#222" >0</text>
<line x1="405.35" y1="525.2" x2="405.35" y2="528.7" stroke="#111" stroke-width="1.0"/>
<text x="405.85" y="538.2" font-size="8.6" text-anchor="middle" fill="#222">2×10<tspan font-size="6.0" dy="-3.5">6</tspan></text>
<line x1="432.6" y1="525.2" x2="432.6" y2="528.7" stroke="#111" stroke-width="1.0"/>
<text x="433.1" y="538.2" font-size="8.6" text-anchor="middle" fill="#222">4×10<tspan font-size="6.0" dy="-3.5">6</tspan></text>
<line x1="459.85" y1="525.2" x2="459.85" y2="528.7" stroke="#111" stroke-width="1.0"/>
<text x="460.35" y="538.2" font-size="8.6" text-anchor="middle" fill="#222">6×10<tspan font-size="6.0" dy="-3.5">6</tspan></text>
<line x1="487.1" y1="525.2" x2="487.1" y2="528.7" stroke="#111" stroke-width="1.0"/>
<text x="487.6" y="538.2" font-size="8.6" text-anchor="middle" fill="#222">8×10<tspan font-size="6.0" dy="-3.5">6</tspan></text>
<text x="433.6" y="551.6" font-size="9.4" text-anchor="middle" fill="#111" stroke="#111" stroke-width="0.22" textLength="84" lengthAdjust="spacingAndGlyphs">CD34+ (absolute cell count)</text>
<text transform="translate(355.3,487.5) rotate(-90)" x="0" y="3.38" font-size="9.4" text-anchor="middle" fill="#111" stroke="#111" stroke-width="0.28" textLength="87" lengthAdjust="spacingAndGlyphs">HSC (percentage of live cells)</text>
<line x1="64.6" y1="511.9" x2="148.7" y2="497.5" stroke="#111" stroke-width="1.2"/>
<line x1="221.5" y1="525.5" x2="317.7" y2="469.5" stroke="#111" stroke-width="1.2"/>
<line x1="379" y1="505.4" x2="481.2" y2="485" stroke="#111" stroke-width="1.2"/>
<text x="124.3" y="521.4" font-size="7.6" fill="#5272ad" stroke="#5272ad" stroke-width="0.18" text-anchor="start"><tspan font-style="italic">r</tspan><tspan font-size="5.6" dy="-3.2">2</tspan><tspan dy="3.2"> = 0.0737</tspan></text>
<text x="293.4" y="519.9" font-size="7.6" fill="#5272ad" stroke="#5272ad" stroke-width="0.18" text-anchor="start"><tspan>r</tspan><tspan font-size="5.6" dy="-3.2">2</tspan><tspan dy="3.2"> = 0.8213</tspan></text>
<text x="460.5" y="519.9" font-size="7.6" fill="#5272ad" stroke="#5272ad" stroke-width="0.18" text-anchor="start"><tspan>r</tspan><tspan font-size="5.6" dy="-3.2">2</tspan><tspan dy="3.2"> = 0.1601</tspan></text>
<circle cx="70.8" cy="30.2" r="1.3" fill="none" stroke="#c8173f" stroke-width="0.95"/>
<rect x="72.2" y="28.2" width="2.8" height="2.8" fill="#c8173f"/>
<circle cx="76.5" cy="30.2" r="1.3" fill="none" stroke="#c8173f" stroke-width="0.95"/>
<rect x="78.6" y="29.1" width="2.8" height="2.8" fill="#c8173f"/>
<circle cx="72.5" cy="33.2" r="1.4" fill="#c8173f"/>
<circle cx="77.5" cy="33" r="1.3" fill="none" stroke="#c8173f" stroke-width="0.95"/>
<circle cx="80.2" cy="34.5" r="1.4" fill="#c8173f"/>
<circle cx="75.5" cy="35.5" r="0.9" fill="#c8173f"/>
<polygon points="85.4,32.9 87,36 83.8,36" fill="#c8173f"/>
<circle cx="62.8" cy="37" r="1.3" fill="none" stroke="#6dbb48" stroke-width="0.95"/>
<circle cx="65.3" cy="37.2" r="1.4" fill="#6dbb48"/>
<rect x="67.2" y="35.6" width="2.6" height="2.6" fill="none" stroke="#6dbb48" stroke-width="0.95"/>
<circle cx="72" cy="37" r="1.3" fill="none" stroke="#6dbb48" stroke-width="0.95"/>
<rect x="75.7" y="36" width="2.6" height="2.6" fill="none" stroke="#6dbb48" stroke-width="0.95"/>
<circle cx="80" cy="37.1" r="1.3" fill="none" stroke="#6dbb48" stroke-width="0.95"/>
<rect x="81.6" y="36.2" width="2.8" height="2.8" fill="#6dbb48"/>
<polygon points="86.2,35.9 87.8,38.8 84.6,38.8" fill="none" stroke="#6dbb48" stroke-width="0.95"/>
<circle cx="65.5" cy="38.9" r="0.9" fill="#23408e"/>
<rect x="66.8" y="37.6" width="2.8" height="2.8" fill="#23408e"/>
<circle cx="71" cy="38.8" r="1.4" fill="#23408e"/>
<rect x="72.4" y="37.6" width="2.8" height="2.8" fill="#23408e"/>
<circle cx="76.6" cy="38.9" r="1.4" fill="#3f66b0"/>
<circle cx="79.5" cy="39" r="0.9" fill="#23408e"/>
<circle cx="70.5" cy="40" r="0.9" fill="#23408e"/>
<circle cx="76" cy="39.6" r="0.9" fill="#23408e"/>
<circle cx="68.5" cy="42.3" r="1.3" fill="none" stroke="#3f66b0" stroke-width="0.95"/>
<circle cx="71.2" cy="42.5" r="0.9" fill="#3f66b0"/>
<polygon points="74,40.2 75.6,41.8 74,43.4 72.4,41.8" fill="none" stroke="#3f66b0" stroke-width="0.95"/>
<circle cx="77.2" cy="42.3" r="0.9" fill="#23408e"/>
<circle cx="80" cy="42" r="1.3" fill="none" stroke="#3f66b0" stroke-width="0.95"/>
<circle cx="82.5" cy="43" r="1.4" fill="#23408e"/>
<circle cx="71" cy="45" r="1.3" fill="none" stroke="#6a2c8a" stroke-width="0.95"/>
<rect x="72.5" y="43.3" width="2.6" height="2.6" fill="none" stroke="#6a2c8a" stroke-width="0.95"/>
<circle cx="76.5" cy="45.5" r="0.9" fill="#6a2c8a"/>
<circle cx="81" cy="44.3" r="1.4" fill="#6a2c8a"/>
<rect x="70.6" y="46.3" width="2.8" height="2.8" fill="#6a2c8a"/>
<circle cx="75" cy="47.5" r="1.3" fill="none" stroke="#6a2c8a" stroke-width="0.95"/>
<circle cx="73" cy="49.8" r="0.9" fill="#6a2c8a"/>
<circle cx="76.5" cy="49.2" r="0.9" fill="#6a2c8a"/>
<circle cx="74.2" cy="51.6" r="0.9" fill="#6a2c8a"/>
<polygon points="73.4,52 75,53.6 73.4,55.2 71.8,53.6" fill="none" stroke="#6a2c8a" stroke-width="0.95"/>
<circle cx="77.4" cy="54" r="1.4" fill="#ee9a22"/>
<circle cx="72.9" cy="57.3" r="1.3" fill="none" stroke="#ee9a22" stroke-width="0.95"/>
<circle cx="75.3" cy="55.8" r="0.9" fill="#ee9a22"/>
<circle cx="77.6" cy="57.6" r="1.3" fill="none" stroke="#ee9a22" stroke-width="0.95"/>
<circle cx="74.6" cy="59.6" r="0.9" fill="#ee9a22"/>
<circle cx="77.2" cy="60.2" r="0.9" fill="#ee9a22"/>
<rect x="72.5" y="61.2" width="2.6" height="2.6" fill="none" stroke="#ee9a22" stroke-width="0.95"/>
<rect x="75.1" y="59.9" width="2.8" height="2.8" fill="#ee9a22"/>
<circle cx="75.1" cy="65.3" r="0.9" fill="#ee9a22"/>
<polygon points="75.1,67.7 76.7,70.8 73.5,70.8" fill="#ee9a22"/>
<circle cx="75.1" cy="83.7" r="0.9" fill="#ee9a22"/>
<polygon points="75.1,88.9 76.7,90.5 75.1,92.1 73.5,90.5" fill="none" stroke="#ee9a22" stroke-width="0.95"/>
<line x1="62.1" y1="40.4" x2="87.9" y2="40.4" stroke="#111" stroke-width="1.2"/>
<line x1="68.6" y1="50.6" x2="81.4" y2="50.6" stroke="#111" stroke-width="1.2"/>
<circle cx="181.4" cy="39.8" r="1.3" fill="none" stroke="#c8173f" stroke-width="0.95"/>
<polygon points="181.4,42.2 183,45.3 179.8,45.3" fill="#23408e"/>
<polygon points="181.4,50.9 183,54 179.8,54" fill="#ee9a22"/>
<circle cx="179.4" cy="58.7" r="1.3" fill="none" stroke="#3f66b0" stroke-width="0.95"/>
<rect x="182.1" y="57.4" width="2.6" height="2.6" fill="none" stroke="#6a2c8a" stroke-width="0.95"/>
<circle cx="175.8" cy="65.9" r="0.9" fill="#6dbb48"/>
<polygon points="179.5,63.6 181.2,65.3 179.5,67 177.8,65.3" fill="#6a2c8a"/>
<rect x="181.5" y="63.8" width="2.8" height="2.8" fill="#6a2c8a"/>
<rect x="181.5" y="66.2" width="2.8" height="2.8" fill="#6a2c8a"/>
<circle cx="186.8" cy="65.3" r="1.3" fill="none" stroke="#ee9a22" stroke-width="0.95"/>
<rect x="174.6" y="68.8" width="2.8" height="2.8" fill="#c8173f"/>
<rect x="178.1" y="69.3" width="2.8" height="2.8" fill="#6dbb48"/>
<circle cx="182.9" cy="71.5" r="1.4" fill="#6dbb48"/>
<circle cx="186.8" cy="72" r="0.9" fill="#23408e"/>
<rect x="189" y="71.9" width="2.6" height="2.6" fill="none" stroke="#3f66b0" stroke-width="0.95"/>
<rect x="170.8" y="72.8" width="2.6" height="2.6" fill="none" stroke="#c8173f" stroke-width="0.95"/>
<polygon points="176,72.4 177.7,74.1 176,75.8 174.3,74.1" fill="#3f66b0"/>
<circle cx="179.5" cy="75.8" r="1.4" fill="#6dbb48"/>
<rect x="181.5" y="74" width="2.8" height="2.8" fill="#3f66b0"/>
<circle cx="172.1" cy="77.1" r="1.4" fill="#ee9a22"/>
<polygon points="168.7,78 170.4,79.7 168.7,81.4 167,79.7" fill="#23408e"/>
<polygon points="172.1,78.5 173.8,80.2 172.1,81.9 170.4,80.2" fill="#6dbb48"/>
<circle cx="176" cy="79.7" r="1.4" fill="#23408e"/>
<rect x="181.5" y="76.6" width="2.8" height="2.8" fill="#6a2c8a"/>
<rect x="181.5" y="79.2" width="2.8" height="2.8" fill="#6a2c8a"/>
<rect x="185.4" y="78.8" width="2.8" height="2.8" fill="#ee9a22"/>
<polygon points="190.3,78.5 192,80.2 190.3,81.9 188.6,80.2" fill="#c8173f"/>
<polygon points="194.2,78.5 195.8,81.6 192.6,81.6" fill="#ee9a22"/>
<circle cx="172.1" cy="82.3" r="0.9" fill="#c8173f"/>
<circle cx="175.8" cy="83.2" r="0.9" fill="#6dbb48"/>
<rect x="178.1" y="81.4" width="2.8" height="2.8" fill="#3f66b0"/>
<rect x="181.6" y="81.9" width="2.6" height="2.6" fill="none" stroke="#ee9a22" stroke-width="0.95"/>
<polygon points="186.8,81.2 188.4,84.1 185.2,84.1" fill="none" stroke="#6dbb48" stroke-width="0.95"/>
<rect x="192.4" y="81.9" width="2.6" height="2.6" fill="none" stroke="#6dbb48" stroke-width="0.95"/>
<circle cx="172.1" cy="84.7" r="1.3" fill="none" stroke="#ee9a22" stroke-width="0.95"/>
<circle cx="190.3" cy="84.7" r="1.4" fill="#c8173f"/>
<polygon points="186.8,83.7 188.4,86.8 185.2,86.8" fill="#23408e"/>
<circle cx="193.7" cy="86.2" r="1.3" fill="none" stroke="#6a2c8a" stroke-width="0.95"/>
<rect x="181.5" y="85.3" width="2.8" height="2.8" fill="#c8173f"/>
<circle cx="168.7" cy="86.7" r="0.9" fill="#c8173f"/>
<circle cx="172.1" cy="88.4" r="1.3" fill="none" stroke="#6dbb48" stroke-width="0.95"/>
<rect x="174.6" y="87" width="2.8" height="2.8" fill="#6a2c8a"/>
<polygon points="179.5,86.8 181.1,89.7 177.9,89.7" fill="none" stroke="#6dbb48" stroke-width="0.95"/>
<circle cx="190.3" cy="88" r="1.4" fill="#ee9a22"/>
<circle cx="182.9" cy="90.5" r="1.4" fill="#c8173f"/>
<polygon points="186.8,88.1 188.4,89.7 186.8,91.3 185.2,89.7" fill="none" stroke="#6a2c8a" stroke-width="0.95"/>
<circle cx="181.2" cy="94.4" r="0.9" fill="#ee9a22"/>
<polygon points="181.5,102.9 183.1,106 179.9,106" fill="#c8173f"/>
<line x1="181.5" y1="72.4" x2="181.5" y2="85.4" stroke="#111" stroke-width="1.0"/>
<line x1="177" y1="72.4" x2="186" y2="72.4" stroke="#111" stroke-width="1.2"/>
<line x1="177" y1="85.4" x2="186" y2="85.4" stroke="#111" stroke-width="1.2"/>
<line x1="168.1" y1="80.2" x2="194.9" y2="80.2" stroke="#111" stroke-width="1.2"/>
<polygon points="280.6,33.1 281.9,35.6 279.3,35.6" fill="#23408e"/>
<circle cx="280.6" cy="42" r="1.3" fill="none" stroke="#3f66b0" stroke-width="0.95"/>
<circle cx="279.2" cy="46.5" r="1.3" fill="none" stroke="#c8173f" stroke-width="0.95"/>
<rect x="280.6" y="47.1" width="2.6" height="2.6" fill="none" stroke="#6a2c8a" stroke-width="0.95"/>
<circle cx="280.5" cy="69.5" r="0.9" fill="#ee9a22"/>
<rect x="277.8" y="70.7" width="2.8" height="2.8" fill="#6a2c8a"/>
<circle cx="282.3" cy="72.1" r="1.3" fill="none" stroke="#6dbb48" stroke-width="0.95"/>
<rect x="277.8" y="75.9" width="2.8" height="2.8" fill="#6a2c8a"/>
<rect x="280.7" y="75.9" width="2.8" height="2.8" fill="#ee9a22"/>
<rect x="279.4" y="78.9" width="2.8" height="2.8" fill="#3f66b0"/>
<circle cx="283.5" cy="80.5" r="1.4" fill="#23408e"/>
<polygon points="286.8,78.6 288.5,80.3 286.8,82 285.1,80.3" fill="#6a2c8a"/>
<circle cx="278" cy="81" r="1.4" fill="#23408e"/>
<circle cx="267.8" cy="85.1" r="1.4" fill="#c8173f"/>
<circle cx="270.4" cy="83.4" r="0.9" fill="#6a2c8a"/>
<circle cx="270.4" cy="86" r="1.4" fill="#ee9a22"/>
<polygon points="272.5,81.3 274.1,84.4 270.9,84.4" fill="#6dbb48"/>
<rect x="275" y="81.6" width="2.8" height="2.8" fill="#c8173f"/>
<rect x="276.9" y="81.9" width="2.8" height="2.8" fill="#23408e"/>
<polygon points="282.5,80.8 284.2,82.5 282.5,84.2 280.8,82.5" fill="#c8173f"/>
<rect x="284.4" y="81.6" width="2.8" height="2.8" fill="#6a2c8a"/>
<rect x="286.2" y="81.6" width="2.8" height="2.8" fill="#3f66b0"/>
<polygon points="289.8,80.8 291.4,83.9 288.2,83.9" fill="#6dbb48"/>
<circle cx="291.6" cy="84.2" r="1.4" fill="#c8173f"/>
<circle cx="274.7" cy="85.5" r="1.4" fill="#23408e"/>
<rect x="275.9" y="84.6" width="2.8" height="2.8" fill="#3f66b0"/>
<rect x="281.1" y="84.6" width="2.8" height="2.8" fill="#ee9a22"/>
<circle cx="280" cy="85" r="1.4" fill="#6a2c8a"/>
<rect x="283.6" y="84.1" width="2.8" height="2.8" fill="#23408e"/>
<circle cx="288.5" cy="86" r="1.4" fill="#3f66b0"/>
<rect x="289.7" y="86.3" width="2.8" height="2.8" fill="#6a2c8a"/>
<circle cx="274.3" cy="89" r="0.9" fill="#ee9a22"/>
<circle cx="277.7" cy="88.1" r="1.4" fill="#6dbb48"/>
<rect x="279.4" y="87.6" width="2.8" height="2.8" fill="#ee9a22"/>
<circle cx="283.8" cy="88.5" r="1.4" fill="#c8173f"/>
<rect x="284.6" y="88" width="2.8" height="2.8" fill="#3f66b0"/>
<circle cx="287.7" cy="90.7" r="0.9" fill="#23408e"/>
<circle cx="274.3" cy="92" r="1.4" fill="#6dbb48"/>
<circle cx="277.3" cy="92.9" r="1.3" fill="none" stroke="#ee9a22" stroke-width="0.95"/>
<circle cx="282.9" cy="92.9" r="0.9" fill="#c8173f"/>
<circle cx="285.1" cy="91.6" r="1.4" fill="#6dbb48"/>
<rect x="278.8" y="89.6" width="2.8" height="2.8" fill="#6a2c8a"/>
<circle cx="277.7" cy="94.6" r="1.3" fill="none" stroke="#ee9a22" stroke-width="0.95"/>
<circle cx="279.5" cy="95.5" r="1.3" fill="none" stroke="#ee9a22" stroke-width="0.95"/>
<circle cx="281.2" cy="95" r="1.3" fill="none" stroke="#ee9a22" stroke-width="0.95"/>
<circle cx="280.3" cy="96.6" r="1.3" fill="none" stroke="#ee9a22" stroke-width="0.95"/>
<polygon points="280.8,101.9 282.4,105 279.2,105" fill="#c8173f"/>
<line x1="273.8" y1="85.1" x2="294.6" y2="85.1" stroke="#111" stroke-width="1.2"/>
<line x1="274.5" y1="81.2" x2="287" y2="81.2" stroke="#111" stroke-width="1.0"/>
<line x1="280.8" y1="81.2" x2="280.8" y2="90.5" stroke="#111" stroke-width="1.0"/>
<polygon points="388.4,41.4 390,44.5 386.8,44.5" fill="#c8173f"/>
<circle cx="387.3" cy="52.2" r="1.3" fill="none" stroke="#3f66b0" stroke-width="0.95"/>
<circle cx="390.1" cy="54" r="0.9" fill="#6dbb48"/>
<rect x="386" y="54.2" width="2.6" height="2.6" fill="none" stroke="#6a2c8a" stroke-width="0.95"/>
<circle cx="389.9" cy="57.6" r="0.9" fill="#3f66b0"/>
<circle cx="387.3" cy="72.4" r="1.3" fill="none" stroke="#6a2c8a" stroke-width="0.95"/>
<circle cx="390.1" cy="71.2" r="0.9" fill="#ee9a22"/>
<rect x="385.9" y="73.8" width="2.8" height="2.8" fill="#ee9a22"/>
<rect x="388.7" y="74.2" width="2.8" height="2.8" fill="#6a2c8a"/>
<rect x="381.4" y="84" width="2.6" height="2.6" fill="none" stroke="#3f66b0" stroke-width="0.95"/>
<rect x="385.2" y="84.4" width="2.8" height="2.8" fill="#c8173f"/>
<circle cx="389.2" cy="85.3" r="1.4" fill="#c8173f"/>
<rect x="390.4" y="83.1" width="2.8" height="2.8" fill="#ee9a22"/>
<circle cx="394.8" cy="85.8" r="1.4" fill="#6a2c8a"/>
<polygon points="397,84.2 398.6,85.8 397,87.4 395.4,85.8" fill="none" stroke="#6dbb48" stroke-width="0.95"/>
<circle cx="382.7" cy="87.9" r="1.4" fill="#6a2c8a"/>
<circle cx="387" cy="88.4" r="1.4" fill="#ee9a22"/>
<circle cx="389.8" cy="88" r="1.3" fill="none" stroke="#c8173f" stroke-width="0.95"/>
<circle cx="394" cy="87.9" r="1.3" fill="none" stroke="#c8173f" stroke-width="0.95"/>
<circle cx="392" cy="89" r="1.4" fill="#3f66b0"/>
<rect x="383.1" y="89.1" width="2.8" height="2.8" fill="#6dbb48"/>
<circle cx="387.2" cy="90.5" r="1.4" fill="#6dbb48"/>
<circle cx="389.7" cy="91" r="1.3" fill="none" stroke="#c8173f" stroke-width="0.95"/>
<circle cx="391.8" cy="90.2" r="1.4" fill="#3f66b0"/>
<rect x="379.2" y="91.5" width="2.8" height="2.8" fill="#c8173f"/>
<circle cx="382.7" cy="92.6" r="1.4" fill="#6a2c8a"/>
<circle cx="386.5" cy="93.6" r="1.4" fill="#6dbb48"/>
<circle cx="390.5" cy="93.5" r="0.9" fill="#6dbb48"/>
<circle cx="396.6" cy="92.9" r="1.3" fill="none" stroke="#6dbb48" stroke-width="0.95"/>
<circle cx="380.6" cy="95.4" r="1.3" fill="none" stroke="#c8173f" stroke-width="0.95"/>
<circle cx="383.6" cy="96" r="1.4" fill="#6a2c8a"/>
<polygon points="389.7,94.9 391.3,98 388.1,98" fill="#ee9a22"/>
<circle cx="392.7" cy="96.2" r="1.4" fill="#3f66b0"/>
<circle cx="394.8" cy="97.7" r="1.4" fill="#ee9a22"/>
<circle cx="397" cy="97" r="1.4" fill="#3f66b0"/>
<rect x="400" y="95.7" width="2.6" height="2.6" fill="none" stroke="#ee9a22" stroke-width="0.95"/>
<circle cx="378" cy="97.4" r="1.3" fill="none" stroke="#ee9a22" stroke-width="0.95"/>
<circle cx="383.2" cy="97.4" r="1.4" fill="#23408e"/>
<rect x="384.4" y="97" width="2.8" height="2.8" fill="#c8173f"/>
<polygon points="387.9,97.6 389.5,100.5 386.3,100.5" fill="none" stroke="#3f66b0" stroke-width="0.95"/>
<circle cx="390.9" cy="99.2" r="1.4" fill="#6a2c8a"/>
<circle cx="378" cy="100" r="1.4" fill="#6a2c8a"/>
<polygon points="380.6,99.7 382.2,101.3 380.6,102.9 379,101.3" fill="none" stroke="#c8173f" stroke-width="0.95"/>
<rect x="383.9" y="99.1" width="2.8" height="2.8" fill="#c8173f"/>
<polygon points="387.9,98.9 389.5,100.5 387.9,102.1 386.3,100.5" fill="none" stroke="#3f66b0" stroke-width="0.95"/>
<rect x="388.3" y="100.8" width="2.8" height="2.8" fill="#23408e"/>
<circle cx="393.5" cy="101.3" r="1.3" fill="none" stroke="#6dbb48" stroke-width="0.95"/>
<circle cx="394.8" cy="102.2" r="1.4" fill="#6dbb48"/>
<circle cx="397.4" cy="100.5" r="1.4" fill="#c8173f"/>
<circle cx="399.2" cy="99.2" r="1.4" fill="#ee9a22"/>
<circle cx="383" cy="102.5" r="0.9" fill="#6a2c8a"/>
<circle cx="391.5" cy="102.8" r="0.9" fill="#23408e"/>
<line x1="375" y1="92.9" x2="402.6" y2="92.9" stroke="#111" stroke-width="1.2"/>
<polygon points="484.5,33.7 486.1,35.3 484.5,36.9 482.9,35.3" fill="none" stroke="#ee9a22" stroke-width="0.95"/>
<polygon points="484.5,52.2 486.1,55.3 482.9,55.3" fill="#ee9a22"/>
<circle cx="484.5" cy="58.3" r="1.4" fill="#6dbb48"/>
<rect x="481.1" y="61.3" width="2.8" height="2.8" fill="#23408e"/>
<polygon points="486,63.1 487.6,66 484.4,66" fill="none" stroke="#3f66b0" stroke-width="0.95"/>
<polygon points="487.9,65.9 489.5,69 486.3,69" fill="#c8173f"/>
<rect x="479.4" y="67.7" width="2.8" height="2.8" fill="#ee9a22"/>
<circle cx="484.3" cy="69.1" r="1.4" fill="#ee9a22"/>
<polygon points="477.6,71.9 479.2,73.5 477.6,75.1 476,73.5" fill="none" stroke="#6a2c8a" stroke-width="0.95"/>
<circle cx="481.1" cy="75" r="1.4" fill="#c8173f"/>
<rect x="483.1" y="73.1" width="2.8" height="2.8" fill="#ee9a22"/>
<circle cx="487.9" cy="75" r="0.9" fill="#6a2c8a"/>
<rect x="481.7" y="76.4" width="2.8" height="2.8" fill="#ee9a22"/>
<circle cx="482.6" cy="81.2" r="1.3" fill="none" stroke="#6a2c8a" stroke-width="0.95"/>
<circle cx="485.8" cy="83.1" r="1.4" fill="#6dbb48"/>
<circle cx="480.7" cy="85.5" r="1.3" fill="none" stroke="#6dbb48" stroke-width="0.95"/>
<polygon points="490.8,83.9 492.4,85.5 490.8,87.1 489.2,85.5" fill="none" stroke="#3f66b0" stroke-width="0.95"/>
<circle cx="487.6" cy="86.3" r="1.3" fill="none" stroke="#3f66b0" stroke-width="0.95"/>
<polygon points="474.4,85.7 476,88.8 472.8,88.8" fill="#c8173f"/>
<polygon points="477.5,85.8 479.1,88.9 475.9,88.9" fill="#23408e"/>
<polygon points="497.5,86.2 499.1,89.3 495.9,89.3" fill="#c8173f"/>
<circle cx="494.2" cy="88" r="1.4" fill="#6dbb48"/>
<rect x="479.6" y="87.6" width="2.8" height="2.8" fill="#c8173f"/>
<rect x="483.1" y="87.6" width="2.8" height="2.8" fill="#ee9a22"/>
<rect x="486.1" y="87.6" width="2.8" height="2.8" fill="#3f66b0"/>
<rect x="489.6" y="88.6" width="2.8" height="2.8" fill="#6dbb48"/>
<circle cx="477.8" cy="90.8" r="1.4" fill="#6dbb48"/>
<circle cx="481.2" cy="91.2" r="1.3" fill="none" stroke="#6a2c8a" stroke-width="0.95"/>
<circle cx="484" cy="91.8" r="1.4" fill="#c8173f"/>
<rect x="486.5" y="90.1" width="2.8" height="2.8" fill="#3f66b0"/>
<circle cx="490.8" cy="92.2" r="1.3" fill="none" stroke="#ee9a22" stroke-width="0.95"/>
<circle cx="494.1" cy="90.8" r="1.4" fill="#6dbb48"/>
<circle cx="477.8" cy="94.6" r="1.4" fill="#c8173f"/>
<rect x="479.8" y="94.1" width="2.8" height="2.8" fill="#6a2c8a"/>
<circle cx="487.4" cy="93.7" r="1.3" fill="none" stroke="#3f66b0" stroke-width="0.95"/>
<circle cx="493.7" cy="94.6" r="1.3" fill="none" stroke="#c8173f" stroke-width="0.95"/>
<polygon points="497.5,93.4 499.1,96.5 495.9,96.5" fill="#6dbb48"/>
<circle cx="487.9" cy="96.5" r="1.4" fill="#c8173f"/>
<rect x="488.9" y="96.1" width="2.8" height="2.8" fill="#c8173f"/>
<rect x="470.2" y="96.7" width="2.6" height="2.6" fill="none" stroke="#6a2c8a" stroke-width="0.95"/>
<circle cx="474.4" cy="98" r="1.4" fill="#3f66b0"/>
<circle cx="477.8" cy="98" r="1.4" fill="#6dbb48"/>
<circle cx="481.2" cy="98.9" r="1.3" fill="none" stroke="#6dbb48" stroke-width="0.95"/>
<polygon points="484.5,97.3 486.1,100.2 482.9,100.2" fill="none" stroke="#3f66b0" stroke-width="0.95"/>
<circle cx="487.4" cy="99.4" r="1.3" fill="none" stroke="#ee9a22" stroke-width="0.95"/>
<rect x="489.4" y="96.6" width="2.8" height="2.8" fill="#c8173f"/>
<circle cx="494.1" cy="98" r="1.3" fill="none" stroke="#6dbb48" stroke-width="0.95"/>
<circle cx="497.5" cy="98" r="1.4" fill="#23408e"/>
<circle cx="477.8" cy="100.9" r="1.4" fill="#23408e"/>
<rect x="489.5" y="99.6" width="2.6" height="2.6" fill="none" stroke="#6a2c8a" stroke-width="0.95"/>
<line x1="484.5" y1="77.4" x2="484.5" y2="96.5" stroke="#c8173f" stroke-width="1.0"/>
<line x1="477.2" y1="77.4" x2="491.9" y2="77.4" stroke="#c8173f" stroke-width="1.2"/>
<line x1="477.2" y1="96.5" x2="491.9" y2="96.5" stroke="#c8173f" stroke-width="1.2"/>
<line x1="470.1" y1="88.7" x2="498.9" y2="88.7" stroke="#222" stroke-width="1.3"/>
<polygon points="66.2,180.1 67.9,181.8 66.2,183.5 64.5,181.8" fill="#c8173f"/>
<rect x="68.7" y="180" width="2.8" height="2.8" fill="#c8173f"/>
<circle cx="77" cy="181.2" r="1.4" fill="#c8173f"/>
<rect x="68.7" y="182.3" width="2.8" height="2.8" fill="#6a2c8a"/>
<polygon points="73.5,182.6 75.2,184.3 73.5,186 71.8,184.3" fill="#23408e"/>
<circle cx="62.8" cy="189.1" r="1.4" fill="#c8173f"/>
<polygon points="66.2,185.6 67.8,188.5 64.6,188.5" fill="none" stroke="#3f66b0" stroke-width="0.95"/>
<circle cx="70.1" cy="188.3" r="1.4" fill="#23408e"/>
<circle cx="73.5" cy="189" r="0.9" fill="#6dbb48"/>
<circle cx="76.6" cy="187.9" r="1.3" fill="none" stroke="#ee9a22" stroke-width="0.95"/>
<rect x="79.4" y="186.5" width="2.8" height="2.8" fill="#3f66b0"/>
<rect x="75.7" y="190.1" width="2.6" height="2.6" fill="none" stroke="#c8173f" stroke-width="0.95"/>
<circle cx="70.1" cy="193" r="1.4" fill="#c8173f"/>
<rect x="57.6" y="194.7" width="2.6" height="2.6" fill="none" stroke="#3f66b0" stroke-width="0.95"/>
<rect x="72.1" y="193.4" width="2.8" height="2.8" fill="#ee9a22"/>
<polygon points="77,194.7 78.6,197.8 75.4,197.8" fill="#6a2c8a"/>
<rect x="64.9" y="195.5" width="2.6" height="2.6" fill="none" stroke="#6dbb48" stroke-width="0.95"/>
<circle cx="70.1" cy="196.4" r="1.4" fill="#6a2c8a"/>
<circle cx="58.9" cy="198.7" r="1.4" fill="#ee9a22"/>
<rect x="61.4" y="196.9" width="2.8" height="2.8" fill="#ee9a22"/>
<rect x="64.8" y="198.4" width="2.8" height="2.8" fill="#ee9a22"/>
<circle cx="69.8" cy="199" r="1.4" fill="#23408e"/>
<rect x="72.1" y="196.9" width="2.8" height="2.8" fill="#6a2c8a"/>
<circle cx="77" cy="199.5" r="1.4" fill="#c8173f"/>
<circle cx="80" cy="200" r="1.4" fill="#6dbb48"/>
<polygon points="84.3,197.4 86,199.1 84.3,200.8 82.6,199.1" fill="#23408e"/>
<rect x="72.1" y="199.4" width="2.8" height="2.8" fill="#23408e"/>
<circle cx="58.9" cy="202.5" r="0.9" fill="#23408e"/>
<polygon points="62.4,202 64.1,203.7 62.4,205.4 60.7,203.7" fill="#6dbb48"/>
<rect x="64.8" y="201.9" width="2.8" height="2.8" fill="#6a2c8a"/>
<circle cx="70.1" cy="203.7" r="1.4" fill="#ee9a22"/>
<rect x="72.1" y="201.9" width="2.8" height="2.8" fill="#c8173f"/>
<circle cx="77" cy="202.9" r="1.3" fill="none" stroke="#6dbb48" stroke-width="0.95"/>
<circle cx="80.8" cy="204.5" r="1.3" fill="none" stroke="#6a2c8a" stroke-width="0.95"/>
<polygon points="70.1,204.8 71.7,206.4 70.1,208 68.5,206.4" fill="none" stroke="#6a2c8a" stroke-width="0.95"/>
<circle cx="73" cy="207" r="1.4" fill="#6a2c8a"/>
<rect x="64.9" y="207.6" width="2.8" height="2.8" fill="#ee9a22"/>
<circle cx="69.8" cy="209.9" r="1.4" fill="#6dbb48"/>
<circle cx="73.8" cy="209.9" r="1.4" fill="#6dbb48"/>
<polygon points="77.4,206.9 79,210 75.8,210" fill="#ee9a22"/>
<circle cx="71.6" cy="212.6" r="1.3" fill="none" stroke="#c8173f" stroke-width="0.95"/>
<polygon points="66.3,215.2 67.6,217.7 65,217.7" fill="#ee9a22"/>
<circle cx="70.3" cy="217" r="1.4" fill="#6dbb48"/>
<circle cx="77.4" cy="215.7" r="1.4" fill="#6dbb48"/>
<rect x="68.4" y="221.4" width="2.8" height="2.8" fill="#6a2c8a"/>
<rect x="72.1" y="220.2" width="2.6" height="2.6" fill="none" stroke="#6a2c8a" stroke-width="0.95"/>
<circle cx="71.8" cy="226.2" r="0.9" fill="#ee9a22"/>
<circle cx="71.8" cy="230" r="1.3" fill="none" stroke="#3f66b0" stroke-width="0.95"/>
<circle cx="71.8" cy="234" r="0.9" fill="#23408e"/>
<polygon points="71.8,244.5 73.4,247.6 70.2,247.6" fill="#c8173f"/>
<line x1="71.5" y1="192.2" x2="71.5" y2="209.5" stroke="#111" stroke-width="1.0"/>
<line x1="67.5" y1="192.2" x2="75.5" y2="192.2" stroke="#111" stroke-width="1.2"/>
<line x1="67.5" y1="209.5" x2="75.5" y2="209.5" stroke="#111" stroke-width="1.2"/>
<line x1="57.7" y1="199.5" x2="85.3" y2="199.5" stroke="#111" stroke-width="1.2"/>
<polygon points="171.2,183.5 172.8,186.6 169.6,186.6" fill="#c8173f"/>
<circle cx="169.5" cy="203.8" r="1.4" fill="#6dbb48"/>
<rect x="171.8" y="203.7" width="2.8" height="2.8" fill="#6dbb48"/>
<circle cx="169.5" cy="206.7" r="1.4" fill="#6dbb48"/>
<polygon points="173.2,207 174.8,208.6 173.2,210.2 171.6,208.6" fill="none" stroke="#6a2c8a" stroke-width="0.95"/>
<circle cx="166" cy="211.2" r="1.3" fill="none" stroke="#6a2c8a" stroke-width="0.95"/>
<circle cx="176.6" cy="211.5" r="0.9" fill="#6dbb48"/>
<rect x="179" y="211.1" width="2.6" height="2.6" fill="none" stroke="#c8173f" stroke-width="0.95"/>
<polygon points="162.1,211.7 163.8,213.4 162.1,215.1 160.4,213.4" fill="#c8173f"/>
<circle cx="169.5" cy="213.4" r="1.3" fill="none" stroke="#6dbb48" stroke-width="0.95"/>
<polygon points="173.2,211.5 174.8,214.6 171.6,214.6" fill="#c8173f"/>
<rect x="164.6" y="213.1" width="2.8" height="2.8" fill="#c8173f"/>
<circle cx="176.8" cy="215" r="0.9" fill="#23408e"/>
<rect x="168.3" y="214.8" width="2.8" height="2.8" fill="#3f66b0"/>
<circle cx="173.4" cy="216.2" r="1.3" fill="none" stroke="#6dbb48" stroke-width="0.95"/>
<rect x="164.6" y="216.6" width="2.8" height="2.8" fill="#ee9a22"/>
<circle cx="176.8" cy="218" r="0.9" fill="#ee9a22"/>
<circle cx="162.1" cy="220.4" r="1.4" fill="#ee9a22"/>
<circle cx="166" cy="219.7" r="1.4" fill="#6a2c8a"/>
<circle cx="169.7" cy="220.1" r="1.4" fill="#c8173f"/>
<rect x="175.3" y="219.7" width="2.6" height="2.6" fill="none" stroke="#6dbb48" stroke-width="0.95"/>
<rect x="179" y="218.4" width="2.6" height="2.6" fill="none" stroke="#3f66b0" stroke-width="0.95"/>
<circle cx="166" cy="222.3" r="1.3" fill="none" stroke="#6dbb48" stroke-width="0.95"/>
<circle cx="172.9" cy="221.9" r="0.9" fill="#23408e"/>
<polygon points="180.3,222.2 181.9,225.3 178.7,225.3" fill="#23408e"/>
<circle cx="158.7" cy="225.8" r="1.4" fill="#c8173f"/>
<rect x="161.1" y="225.7" width="2.8" height="2.8" fill="#3f66b0"/>
<rect x="164.6" y="224.8" width="2.8" height="2.8" fill="#6a2c8a"/>
<polygon points="169.5,224.5 171.1,227.6 167.9,227.6" fill="#6dbb48"/>
<rect x="171.9" y="226.2" width="2.6" height="2.6" fill="none" stroke="#ee9a22" stroke-width="0.95"/>
<polygon points="176.4,225.5 178,228.4 174.8,228.4" fill="none" stroke="#3f66b0" stroke-width="0.95"/>
<circle cx="179.8" cy="226.2" r="1.4" fill="#23408e"/>
<polygon points="183.7,223.4 185.4,225.1 183.7,226.8 182,225.1" fill="#6a2c8a"/>
<circle cx="158.7" cy="230.1" r="1.4" fill="#6a2c8a"/>
<circle cx="166" cy="230.1" r="1.4" fill="#c8173f"/>
<circle cx="169.5" cy="229.5" r="1.4" fill="#ee9a22"/>
<rect x="172" y="230" width="2.8" height="2.8" fill="#ee9a22"/>
<rect x="175.5" y="230.1" width="2.6" height="2.6" fill="none" stroke="#6a2c8a" stroke-width="0.95"/>
<circle cx="180.3" cy="229.7" r="0.9" fill="#6dbb48"/>
<rect x="182.4" y="229.2" width="2.6" height="2.6" fill="none" stroke="#ee9a22" stroke-width="0.95"/>
<polygon points="162.1,231.5 163.7,233.1 162.1,234.7 160.5,233.1" fill="none" stroke="#c8173f" stroke-width="0.95"/>
<circle cx="166" cy="234.4" r="1.4" fill="#ee9a22"/>
<circle cx="169.5" cy="233.1" r="1.3" fill="none" stroke="#3f66b0" stroke-width="0.95"/>
<circle cx="176.8" cy="233.5" r="0.9" fill="#ee9a22"/>
<rect x="178.9" y="233" width="2.8" height="2.8" fill="#6a2c8a"/>
<polygon points="169.5,235.7 171.1,238.8 167.9,238.8" fill="#23408e"/>
<circle cx="173.2" cy="237.4" r="1.3" fill="none" stroke="#c8173f" stroke-width="0.95"/>
<circle cx="176.8" cy="236.6" r="1.4" fill="#23408e"/>
<circle cx="171.2" cy="242" r="0.9" fill="#ee9a22"/>
<line x1="171.5" y1="214.3" x2="171.5" y2="230.1" stroke="#111" stroke-width="1.0"/>
<line x1="168" y1="214.3" x2="175" y2="214.3" stroke="#111" stroke-width="1.2"/>
<line x1="168" y1="230.1" x2="175" y2="230.1" stroke="#111" stroke-width="1.2"/>
<line x1="157.8" y1="224.5" x2="185.2" y2="224.5" stroke="#111" stroke-width="1.2"/>
<circle cx="270.8" cy="181.3" r="1.4" fill="#6a2c8a"/>
<circle cx="270.8" cy="195.2" r="1.4" fill="#23408e"/>
<rect x="266.1" y="196.1" width="2.6" height="2.6" fill="none" stroke="#ee9a22" stroke-width="0.95"/>
<polygon points="270.6,197.7 272.2,200.8 269,200.8" fill="#6dbb48"/>
<polygon points="274.1,198.5 275.7,200.1 274.1,201.7 272.5,200.1" fill="none" stroke="#ee9a22" stroke-width="0.95"/>
<circle cx="267.4" cy="202" r="0.9" fill="#23408e"/>
<polygon points="270.8,201.6 272.5,203.3 270.8,205 269.1,203.3" fill="#c8173f"/>
<rect x="272.7" y="201.3" width="2.8" height="2.8" fill="#3f66b0"/>
<rect x="279" y="202.2" width="2.6" height="2.6" fill="none" stroke="#ee9a22" stroke-width="0.95"/>
<circle cx="264.4" cy="203.9" r="1.4" fill="#ee9a22"/>
<circle cx="267.4" cy="204.9" r="1.4" fill="#ee9a22"/>
<rect x="275.7" y="204.1" width="2.8" height="2.8" fill="#23408e"/>
<circle cx="274.1" cy="205.2" r="1.4" fill="#6dbb48"/>
<circle cx="264.4" cy="207" r="1.3" fill="none" stroke="#6dbb48" stroke-width="0.95"/>
<circle cx="270.8" cy="210.3" r="1.4" fill="#ee9a22"/>
<polygon points="274.1,209.5 275.7,211.1 274.1,212.7 272.5,211.1" fill="none" stroke="#6dbb48" stroke-width="0.95"/>
<polygon points="267.4,210.3 269,213.2 265.8,213.2" fill="none" stroke="#3f66b0" stroke-width="0.95"/>
<circle cx="261.3" cy="212.9" r="0.9" fill="#6dbb48"/>
<rect x="266" y="213.3" width="2.8" height="2.8" fill="#6dbb48"/>
<rect x="272.4" y="213.7" width="2.8" height="2.8" fill="#c8173f"/>
<polygon points="258.1,214.6 259.8,216.3 258.1,218 256.4,216.3" fill="#6a2c8a"/>
<polygon points="261.3,214.3 262.9,217.4 259.7,217.4" fill="#6a2c8a"/>
<circle cx="264.5" cy="217" r="1.4" fill="#c8173f"/>
<polygon points="270.8,215.3 272.5,217 270.8,218.7 269.1,217" fill="#23408e"/>
<circle cx="277.1" cy="216.7" r="1.4" fill="#6dbb48"/>
<circle cx="280.3" cy="216.3" r="1.4" fill="#6a2c8a"/>
<polygon points="283.5,214.6 285.2,216.3 283.5,218 281.8,216.3" fill="#23408e"/>
<polygon points="273.8,217.5 275.4,220.4 272.2,220.4" fill="none" stroke="#6a2c8a" stroke-width="0.95"/>
<circle cx="277.1" cy="220.3" r="1.4" fill="#c8173f"/>
<circle cx="261.3" cy="221.2" r="0.9" fill="#6dbb48"/>
<circle cx="264.4" cy="222.9" r="1.4" fill="#c8173f"/>
<polygon points="267.4,220.3 269,223.4 265.8,223.4" fill="#c8173f"/>
<circle cx="270.8" cy="222.4" r="1.4" fill="#ee9a22"/>
<rect x="275.8" y="221.9" width="2.6" height="2.6" fill="none" stroke="#3f66b0" stroke-width="0.95"/>
<circle cx="280.3" cy="221.2" r="1.3" fill="none" stroke="#6dbb48" stroke-width="0.95"/>
<polygon points="267.4,223.1 269,226.2 265.8,226.2" fill="#23408e"/>
<circle cx="273.8" cy="225.6" r="1.4" fill="#c8173f"/>
<circle cx="267.4" cy="227.2" r="0.9" fill="#6dbb48"/>
<rect x="266" y="228.2" width="2.8" height="2.8" fill="#6a2c8a"/>
<rect x="269.5" y="228.7" width="2.6" height="2.6" fill="none" stroke="#c8173f" stroke-width="0.95"/>
<polygon points="274.1,226.8 275.7,228.4 274.1,230 272.5,228.4" fill="none" stroke="#6a2c8a" stroke-width="0.95"/>
<circle cx="267.4" cy="232.9" r="1.4" fill="#6a2c8a"/>
<rect x="266.1" y="234.2" width="2.6" height="2.6" fill="none" stroke="#6a2c8a" stroke-width="0.95"/>
<circle cx="270.8" cy="234.5" r="0.9" fill="#3f66b0"/>
<circle cx="274.1" cy="234.1" r="0.9" fill="#ee9a22"/>
<polygon points="264.4,237.6 266,240.7 262.8,240.7" fill="#c8173f"/>
<circle cx="270.6" cy="238.9" r="1.3" fill="none" stroke="#c8173f" stroke-width="0.95"/>
<circle cx="273.8" cy="237.7" r="0.9" fill="#ee9a22"/>
<circle cx="277.1" cy="239.3" r="1.3" fill="none" stroke="#3f66b0" stroke-width="0.95"/>
<line x1="270.8" y1="205.1" x2="270.8" y2="226.2" stroke="#111" stroke-width="1.0"/>
<line x1="264.3" y1="205.1" x2="277.3" y2="205.1" stroke="#111" stroke-width="1.2"/>
<line x1="264.3" y1="226.2" x2="277.3" y2="226.2" stroke="#111" stroke-width="1.2"/>
<line x1="256.9" y1="216.3" x2="284.7" y2="216.3" stroke="#111" stroke-width="1.2"/>
<circle cx="375.3" cy="190.1" r="0.9" fill="#ee9a22"/>
<circle cx="374.6" cy="222.1" r="1.3" fill="none" stroke="#3f66b0" stroke-width="0.95"/>
<circle cx="376.4" cy="223.6" r="1.4" fill="#ee9a22"/>
<rect x="373.7" y="224.6" width="2.8" height="2.8" fill="#6dbb48"/>
<circle cx="377.1" cy="225.7" r="1.4" fill="#6dbb48"/>
<rect x="371.8" y="229" width="2.8" height="2.8" fill="#ee9a22"/>
<polygon points="376.8,228.2 378.4,231.3 375.2,231.3" fill="#3f66b0"/>
<rect x="375.4" y="231" width="2.8" height="2.8" fill="#ee9a22"/>
<circle cx="373.6" cy="233.9" r="1.4" fill="#6a2c8a"/>
<rect x="373.7" y="234.9" width="2.8" height="2.8" fill="#6a2c8a"/>
<circle cx="377.8" cy="235.5" r="1.4" fill="#c8173f"/>
<rect x="371.9" y="238" width="2.6" height="2.6" fill="none" stroke="#ee9a22" stroke-width="0.95"/>
<rect x="375.7" y="238.8" width="2.8" height="2.8" fill="#3f66b0"/>
<circle cx="375" cy="238" r="1.4" fill="#23408e"/>
<circle cx="369.7" cy="241.7" r="1.3" fill="none" stroke="#6a2c8a" stroke-width="0.95"/>
<circle cx="373" cy="242.5" r="1.4" fill="#c8173f"/>
<circle cx="367.8" cy="242.7" r="0.9" fill="#6dbb48"/>
<rect x="377.2" y="240.8" width="2.8" height="2.8" fill="#3f66b0"/>
<polygon points="381.5,241.5 383.1,244.6 379.9,244.6" fill="#c8173f"/>
<circle cx="369.7" cy="245.6" r="1.4" fill="#c8173f"/>
<rect x="370.8" y="244.2" width="2.8" height="2.8" fill="#ee9a22"/>
<circle cx="375.5" cy="245.6" r="1.4" fill="#6a2c8a"/>
<circle cx="373.5" cy="247.5" r="1.4" fill="#c8173f"/>
<circle cx="378.5" cy="246.5" r="1.4" fill="#ee9a22"/>
<polygon points="364.8,246.5 366.4,249.4 363.2,249.4" fill="none" stroke="#6dbb48" stroke-width="0.95"/>
<circle cx="381.5" cy="248.1" r="1.3" fill="none" stroke="#6a2c8a" stroke-width="0.95"/>
<circle cx="384" cy="247.8" r="0.9" fill="#6dbb48"/>
<circle cx="370" cy="248.5" r="0.9" fill="#ee9a22"/>
<circle cx="363.5" cy="250.8" r="1.4" fill="#ee9a22"/>
<circle cx="366" cy="250.8" r="1.4" fill="#6dbb48"/>
<rect x="367.1" y="249.4" width="2.8" height="2.8" fill="#3f66b0"/>
<circle cx="371" cy="250.8" r="1.4" fill="#6a2c8a"/>
<rect x="372.1" y="249.4" width="2.8" height="2.8" fill="#23408e"/>
<circle cx="376" cy="250.8" r="1.4" fill="#c8173f"/>
<circle cx="378.5" cy="250.8" r="1.4" fill="#ee9a22"/>
<rect x="379.6" y="249.4" width="2.8" height="2.8" fill="#c8173f"/>
<circle cx="383.5" cy="250.8" r="1.4" fill="#3f66b0"/>
<circle cx="386.5" cy="250.8" r="1.4" fill="#c8173f"/>
<line x1="362.95" y1="244.7" x2="388.45" y2="244.7" stroke="#111" stroke-width="1.2"/>
<line x1="369.2" y1="236.8" x2="381.5" y2="236.8" stroke="#111" stroke-width="1.2"/>
<line x1="375.7" y1="236.8" x2="375.7" y2="244.7" stroke="#111" stroke-width="1.0"/>
<circle cx="469.4" cy="184.1" r="1.4" fill="#6dbb48"/>
<rect x="468" y="196.1" width="2.8" height="2.8" fill="#c8173f"/>
<circle cx="467.4" cy="202.2" r="1.3" fill="none" stroke="#ee9a22" stroke-width="0.95"/>
<polygon points="471.4,200.6 473,202.2 471.4,203.8 469.8,202.2" fill="none" stroke="#6a2c8a" stroke-width="0.95"/>
<circle cx="471.3" cy="209.7" r="1.3" fill="none" stroke="#3f66b0" stroke-width="0.95"/>
<polygon points="467.4,209.8 469,212.9 465.8,212.9" fill="#c8173f"/>
<rect x="466" y="214.4" width="2.8" height="2.8" fill="#6dbb48"/>
<rect x="469.8" y="214.4" width="2.8" height="2.8" fill="#ee9a22"/>
<polygon points="467.4,217.6 469,220.7 465.8,220.7" fill="#ee9a22"/>
<rect x="469.8" y="217.5" width="2.8" height="2.8" fill="#c8173f"/>
<rect x="462.4" y="220.7" width="2.6" height="2.6" fill="none" stroke="#6dbb48" stroke-width="0.95"/>
<rect x="462.4" y="223.2" width="2.6" height="2.6" fill="none" stroke="#6dbb48" stroke-width="0.95"/>
<circle cx="469.4" cy="222.5" r="1.4" fill="#23408e"/>
<polygon points="475,221.6 476.7,223.3 475,225 473.3,223.3" fill="#6a2c8a"/>
<circle cx="467.4" cy="225" r="0.9" fill="#6dbb48"/>
<rect x="469.8" y="223.9" width="2.8" height="2.8" fill="#ee9a22"/>
<rect x="458.8" y="228.1" width="2.6" height="2.6" fill="none" stroke="#c8173f" stroke-width="0.95"/>
<circle cx="463.7" cy="229.8" r="1.4" fill="#6a2c8a"/>
<polygon points="467.4,227.7 469.1,229.4 467.4,231.1 465.7,229.4" fill="#6a2c8a"/>
<polygon points="471.2,227.7 472.8,230.8 469.6,230.8" fill="#6a2c8a"/>
<polygon points="478.7,226.6 480.3,228.2 478.7,229.8 477.1,228.2" fill="none" stroke="#3f66b0" stroke-width="0.95"/>
<circle cx="478.7" cy="231.2" r="1.3" fill="none" stroke="#c8173f" stroke-width="0.95"/>
<circle cx="456.5" cy="233.8" r="1.4" fill="#ee9a22"/>
<circle cx="460.1" cy="234" r="1.4" fill="#6dbb48"/>
<rect x="462.3" y="231.2" width="2.8" height="2.8" fill="#ee9a22"/>
<rect x="466" y="231.2" width="2.8" height="2.8" fill="#ee9a22"/>
<rect x="469.8" y="231.6" width="2.8" height="2.8" fill="#23408e"/>
<circle cx="475" cy="233" r="1.4" fill="#ee9a22"/>
<circle cx="478.7" cy="233.8" r="1.4" fill="#c8173f"/>
<polygon points="482.3,232.2 483.9,233.8 482.3,235.4 480.7,233.8" fill="none" stroke="#6dbb48" stroke-width="0.95"/>
<circle cx="456.5" cy="237.1" r="0.9" fill="#6a2c8a"/>
<circle cx="460.1" cy="237.1" r="1.4" fill="#c8173f"/>
<circle cx="463.7" cy="235.8" r="1.4" fill="#6a2c8a"/>
<circle cx="467.4" cy="236" r="1.4" fill="#c8173f"/>
<rect x="469.8" y="234" width="2.8" height="2.8" fill="#6a2c8a"/>
<rect x="473.7" y="234.1" width="2.6" height="2.6" fill="none" stroke="#6dbb48" stroke-width="0.95"/>
<rect x="477.3" y="235.7" width="2.8" height="2.8" fill="#6a2c8a"/>
<circle cx="482.3" cy="237.1" r="1.4" fill="#3f66b0"/>
<rect x="455.2" y="239" width="2.6" height="2.6" fill="none" stroke="#3f66b0" stroke-width="0.95"/>
<polygon points="460.1,238.6 461.8,240.3 460.1,242 458.4,240.3" fill="#23408e"/>
<circle cx="463.7" cy="239.1" r="1.4" fill="#c8173f"/>
<circle cx="467.4" cy="238.7" r="1.4" fill="#ee9a22"/>
<circle cx="471.2" cy="239.1" r="1.3" fill="none" stroke="#3f66b0" stroke-width="0.95"/>
<polygon points="478.7,238.7 480.3,240.3 478.7,241.9 477.1,240.3" fill="none" stroke="#6dbb48" stroke-width="0.95"/>
<circle cx="482.3" cy="240.3" r="1.3" fill="none" stroke="#c8173f" stroke-width="0.95"/>
<rect x="462.3" y="240.5" width="2.8" height="2.8" fill="#23408e"/>
<rect x="466.1" y="240.6" width="2.6" height="2.6" fill="none" stroke="#6a2c8a" stroke-width="0.95"/>
<polygon points="471.2,240.3 472.8,243.2 469.6,243.2" fill="none" stroke="#6dbb48" stroke-width="0.95"/>
<circle cx="475" cy="241.9" r="0.9" fill="#ee9a22"/>
<polygon points="469.4,246.7 470.6,249 468.2,249" fill="#23408e"/>
<line x1="469.4" y1="222.9" x2="469.4" y2="237.5" stroke="#111" stroke-width="1.0"/>
<line x1="464.4" y1="222.9" x2="474.4" y2="222.9" stroke="#111" stroke-width="1.2"/>
<line x1="464.4" y1="237.5" x2="474.4" y2="237.5" stroke="#111" stroke-width="1.2"/>
<line x1="455.3" y1="232.6" x2="483.5" y2="232.6" stroke="#111" stroke-width="1.2"/>
<circle cx="82" cy="323.4" r="1.3" fill="none" stroke="#3f66b0" stroke-width="0.95"/>
<circle cx="82" cy="343.1" r="1.4" fill="#6dbb48"/>
<circle cx="82" cy="347.5" r="0.9" fill="#23408e"/>
<circle cx="82" cy="350.9" r="0.9" fill="#6dbb48"/>
<rect x="80.4" y="354.9" width="2.8" height="2.8" fill="#6a2c8a"/>
<rect x="79.9" y="358.3" width="2.6" height="2.6" fill="none" stroke="#6dbb48" stroke-width="0.95"/>
<polygon points="84.4,358.9 86,362 82.8,362" fill="#6dbb48"/>
<circle cx="82" cy="362.6" r="1.4" fill="#6dbb48"/>
<polygon points="79.2,364.6 80.8,366.2 79.2,367.8 77.6,366.2" fill="none" stroke="#6dbb48" stroke-width="0.95"/>
<circle cx="82.4" cy="368.2" r="1.4" fill="#23408e"/>
<polygon points="84.4,366.5 86.1,368.2 84.4,369.9 82.7,368.2" fill="#6a2c8a"/>
<polygon points="81.6,370.5 82.9,371.8 81.6,373.1 80.3,371.8" fill="#3f66b0"/>
<circle cx="80" cy="375.4" r="1.4" fill="#c8173f"/>
<circle cx="82.4" cy="376.6" r="1.4" fill="#c8173f"/>
<circle cx="84.6" cy="376.4" r="0.9" fill="#3f66b0"/>
<polygon points="77.2,376.6 78.8,378.2 77.2,379.8 75.6,378.2" fill="none" stroke="#c8173f" stroke-width="0.95"/>
<circle cx="80.3" cy="377.8" r="1.4" fill="#c8173f"/>
<rect x="77.9" y="379" width="2.6" height="2.6" fill="none" stroke="#6a2c8a" stroke-width="0.95"/>
<circle cx="81.8" cy="379.8" r="1.3" fill="none" stroke="#6a2c8a" stroke-width="0.95"/>
<circle cx="84.4" cy="379.8" r="1.3" fill="none" stroke="#c8173f" stroke-width="0.95"/>
<circle cx="81.6" cy="382.7" r="1.4" fill="#3f66b0"/>
<circle cx="83" cy="384" r="1.4" fill="#3f66b0"/>
<circle cx="79.2" cy="384.3" r="0.9" fill="#ee9a22"/>
<circle cx="84.4" cy="385.1" r="1.4" fill="#c8173f"/>
<circle cx="79.2" cy="387.1" r="0.9" fill="#c8173f"/>
<rect x="81" y="386.1" width="2.8" height="2.8" fill="#ee9a22"/>
<circle cx="84.6" cy="388" r="1.4" fill="#ee9a22"/>
<circle cx="70.4" cy="391.9" r="1.4" fill="#ee9a22"/>
<rect x="71.9" y="390" width="2.6" height="2.6" fill="none" stroke="#3f66b0" stroke-width="0.95"/>
<circle cx="76" cy="391.6" r="1.4" fill="#c8173f"/>
<circle cx="78.8" cy="391.6" r="1.3" fill="none" stroke="#c8173f" stroke-width="0.95"/>
<circle cx="81.6" cy="391.9" r="1.4" fill="#c8173f"/>
<circle cx="84.5" cy="391.6" r="1.4" fill="#6dbb48"/>
<polygon points="86,388.9 87.6,392 84.4,392" fill="#c8173f"/>
<circle cx="88.5" cy="391.5" r="1.4" fill="#23408e"/>
<rect x="91.9" y="390.5" width="2.8" height="2.8" fill="#ee9a22"/>
<circle cx="90.8" cy="391.2" r="1.4" fill="#6dbb48"/>
<circle cx="73.2" cy="394.3" r="1.3" fill="none" stroke="#6dbb48" stroke-width="0.95"/>
<circle cx="75.6" cy="394.3" r="1.4" fill="#6a2c8a"/>
<circle cx="78.8" cy="394.6" r="1.4" fill="#23408e"/>
<circle cx="81.6" cy="393.8" r="1.4" fill="#c8173f"/>
<circle cx="84.4" cy="394.3" r="1.4" fill="#ee9a22"/>
<rect x="85.4" y="392.9" width="2.8" height="2.8" fill="#3f66b0"/>
<rect x="87.6" y="393" width="2.6" height="2.6" fill="none" stroke="#6dbb48" stroke-width="0.95"/>
<circle cx="91.5" cy="394.6" r="1.4" fill="#ee9a22"/>
<circle cx="75.2" cy="396.5" r="1.4" fill="#6a2c8a"/>
<circle cx="78" cy="396.8" r="1.4" fill="#23408e"/>
<circle cx="81.2" cy="396.5" r="1.4" fill="#6a2c8a"/>
<polygon points="83.3,395.1 84.9,398.2 81.7,398.2" fill="#ee9a22"/>
<circle cx="86.5" cy="396.8" r="1.4" fill="#ee9a22"/>
<circle cx="89" cy="396.8" r="1.4" fill="#c8173f"/>
<line x1="69.55" y1="389.1" x2="94.45" y2="389.1" stroke="#111" stroke-width="1.2"/>
<line x1="76" y1="374.2" x2="88" y2="374.2" stroke="#111" stroke-width="1.2"/>
<line x1="82" y1="374.2" x2="82" y2="389.1" stroke="#111" stroke-width="1.0"/>
<circle cx="189.4" cy="324.6" r="1.3" fill="none" stroke="#3f66b0" stroke-width="0.95"/>
<polygon points="189.4,330.3 190.7,332.8 188.1,332.8" fill="#23408e"/>
<polygon points="189.4,357.5 190.7,360 188.1,360" fill="#6dbb48"/>
<circle cx="189.4" cy="359.4" r="0.9" fill="#6dbb48"/>
<circle cx="188" cy="363" r="1.4" fill="#6dbb48"/>
<rect x="189" y="363.2" width="2.8" height="2.8" fill="#6a2c8a"/>
<circle cx="189.4" cy="373.3" r="1.3" fill="none" stroke="#c8173f" stroke-width="0.95"/>
<circle cx="189.4" cy="376.8" r="1.4" fill="#23408e"/>
<rect x="181.9" y="379.2" width="2.6" height="2.6" fill="none" stroke="#6a2c8a" stroke-width="0.95"/>
<rect x="183.9" y="379.1" width="2.8" height="2.8" fill="#6a2c8a"/>
<circle cx="187.4" cy="380.3" r="1.4" fill="#6dbb48"/>
<circle cx="190" cy="382.7" r="1.4" fill="#c8173f"/>
<polygon points="194.4,379.4 196,381 194.4,382.6 192.8,381" fill="none" stroke="#3f66b0" stroke-width="0.95"/>
<circle cx="192" cy="382.4" r="1.4" fill="#ee9a22"/>
<circle cx="188.4" cy="384.3" r="1.4" fill="#6dbb48"/>
<circle cx="190.4" cy="386.3" r="1.4" fill="#23408e"/>
<circle cx="188.4" cy="386.7" r="1.4" fill="#c8173f"/>
<circle cx="186.8" cy="390.3" r="1.4" fill="#c8173f"/>
<rect x="188.6" y="388.9" width="2.8" height="2.8" fill="#23408e"/>
<circle cx="193.2" cy="388.7" r="1.3" fill="none" stroke="#ee9a22" stroke-width="0.95"/>
<circle cx="184.5" cy="389.6" r="1.4" fill="#6a2c8a"/>
<circle cx="182.2" cy="391" r="1.4" fill="#c8173f"/>
<circle cx="179" cy="393.8" r="1.3" fill="none" stroke="#ee9a22" stroke-width="0.95"/>
<circle cx="181.5" cy="393.5" r="1.4" fill="#6dbb48"/>
<rect x="182.6" y="392.4" width="2.8" height="2.8" fill="#6a2c8a"/>
<circle cx="186.5" cy="393.3" r="1.4" fill="#ee9a22"/>
<rect x="187.6" y="392.1" width="2.8" height="2.8" fill="#c8173f"/>
<circle cx="191.5" cy="393.8" r="1.4" fill="#3f66b0"/>
<circle cx="194" cy="393.2" r="1.4" fill="#ee9a22"/>
<circle cx="196.5" cy="393.5" r="1.4" fill="#c8173f"/>
<rect x="197.7" y="392.5" width="2.6" height="2.6" fill="none" stroke="#c8173f" stroke-width="0.95"/>
<circle cx="201" cy="393.2" r="1.4" fill="#6dbb48"/>
<circle cx="179.5" cy="396.3" r="1.4" fill="#ee9a22"/>
<rect x="180.6" y="394.9" width="2.8" height="2.8" fill="#3f66b0"/>
<circle cx="184.5" cy="396.5" r="1.4" fill="#ee9a22"/>
<circle cx="187" cy="396.3" r="1.4" fill="#23408e"/>
<circle cx="189.5" cy="396.5" r="1.4" fill="#c8173f"/>
<rect x="190.6" y="394.9" width="2.8" height="2.8" fill="#6a2c8a"/>
<circle cx="194.5" cy="396.5" r="1.4" fill="#ee9a22"/>
<circle cx="197" cy="396.3" r="1.4" fill="#3f66b0"/>
<circle cx="199.5" cy="396.5" r="1.4" fill="#6a2c8a"/>
<line x1="178" y1="392.7" x2="201.7" y2="392.7" stroke="#333" stroke-width="1.2"/>
<circle cx="297.1" cy="321.9" r="0.9" fill="#6dbb48"/>
<circle cx="297.1" cy="338.4" r="1.4" fill="#6dbb48"/>
<polygon points="297.1,340.2 298.7,343.1 295.5,343.1" fill="none" stroke="#6dbb48" stroke-width="0.95"/>
<polygon points="295.6,344.6 297.3,346.3 295.6,348 293.9,346.3" fill="#23408e"/>
<rect x="297.2" y="346.1" width="2.6" height="2.6" fill="none" stroke="#6dbb48" stroke-width="0.95"/>
<circle cx="294.2" cy="356.3" r="1.3" fill="none" stroke="#3f66b0" stroke-width="0.95"/>
<circle cx="297.1" cy="357.6" r="1.4" fill="#6a2c8a"/>
<rect x="298.5" y="354.5" width="2.8" height="2.8" fill="#c8173f"/>
<circle cx="299.9" cy="359.3" r="1.4" fill="#6dbb48"/>
<polygon points="297.1,359.9 298.7,362.8 295.5,362.8" fill="none" stroke="#c8173f" stroke-width="0.95"/>
<polygon points="294.2,361.1 295.9,362.8 294.2,364.5 292.5,362.8" fill="#3f66b0"/>
<circle cx="297.1" cy="364.5" r="1.4" fill="#c8173f"/>
<circle cx="299.8" cy="366.4" r="0.9" fill="#6dbb48"/>
<circle cx="297.1" cy="368" r="1.4" fill="#6a2c8a"/>
<circle cx="297.1" cy="371.4" r="0.9" fill="#23408e"/>
<circle cx="294.2" cy="375.1" r="1.4" fill="#c8173f"/>
<circle cx="297.1" cy="375" r="1.4" fill="#3f66b0"/>
<rect x="298.8" y="372.7" width="2.6" height="2.6" fill="none" stroke="#3f66b0" stroke-width="0.95"/>
<polygon points="297.1,374.9 298.8,376.6 297.1,378.3 295.4,376.6" fill="#6a2c8a"/>
<circle cx="295.3" cy="379.7" r="1.3" fill="none" stroke="#c8173f" stroke-width="0.95"/>
<circle cx="298.4" cy="381" r="1.3" fill="none" stroke="#ee9a22" stroke-width="0.95"/>
<circle cx="291.4" cy="383.5" r="1.3" fill="none" stroke="#6a2c8a" stroke-width="0.95"/>
<circle cx="294.2" cy="383.5" r="0.9" fill="#c8173f"/>
<circle cx="302.7" cy="384.8" r="1.4" fill="#ee9a22"/>
<polygon points="288.4,386.2 290,389.3 286.8,389.3" fill="#6a2c8a"/>
<rect x="292.8" y="385.2" width="2.8" height="2.8" fill="#ee9a22"/>
<circle cx="291" cy="387.5" r="1.4" fill="#ee9a22"/>
<circle cx="297.2" cy="388" r="1.4" fill="#c8173f"/>
<rect x="298.4" y="387" width="2.6" height="2.6" fill="none" stroke="#6dbb48" stroke-width="0.95"/>
<rect x="301.4" y="387" width="2.6" height="2.6" fill="none" stroke="#c8173f" stroke-width="0.95"/>
<rect x="304" y="387.4" width="2.6" height="2.6" fill="none" stroke="#3f66b0" stroke-width="0.95"/>
<circle cx="285.4" cy="391.8" r="1.5" fill="#3f66b0"/>
<rect x="286.6" y="389.5" width="2.8" height="2.8" fill="#ee9a22"/>
<circle cx="291" cy="390.6" r="1.4" fill="#ee9a22"/>
<circle cx="294.2" cy="390.6" r="1.4" fill="#23408e"/>
<circle cx="297.1" cy="391.3" r="1.4" fill="#c8173f"/>
<rect x="298.7" y="389.9" width="2.8" height="2.8" fill="#c8173f"/>
<circle cx="305.7" cy="392.6" r="1.4" fill="#23408e"/>
<circle cx="308.3" cy="391.3" r="0.9" fill="#6dbb48"/>
<circle cx="303" cy="391.5" r="1.4" fill="#3f66b0"/>
<circle cx="291" cy="393.1" r="1.3" fill="none" stroke="#6dbb48" stroke-width="0.95"/>
<polygon points="294.2,391.4 295.9,393.1 294.2,394.8 292.5,393.1" fill="#ee9a22"/>
<circle cx="297.1" cy="393.5" r="1.4" fill="#c8173f"/>
<circle cx="300.1" cy="394.8" r="1.4" fill="#6dbb48"/>
<circle cx="302.7" cy="394.8" r="1.4" fill="#ee9a22"/>
<circle cx="286.5" cy="394.5" r="1.4" fill="#23408e"/>
<polygon points="288.4,395.3 290.1,397 288.4,398.7 286.7,397" fill="#ee9a22"/>
<circle cx="291.4" cy="396.5" r="1.4" fill="#c8173f"/>
<rect x="292.8" y="394.3" width="2.8" height="2.8" fill="#6a2c8a"/>
<circle cx="297.1" cy="395.8" r="1.4" fill="#23408e"/>
<polygon points="300.1,395.3 301.7,398.4 298.5,398.4" fill="#ee9a22"/>
<polygon points="305.3,395.3 306.9,398.4 303.7,398.4" fill="#c8173f"/>
<line x1="297.1" y1="366.1" x2="297.1" y2="385.7" stroke="#c8173f" stroke-width="1.0"/>
<line x1="291" y1="366.1" x2="303.1" y2="366.1" stroke="#c8173f" stroke-width="1.2"/>
<line x1="285" y1="385.7" x2="309.6" y2="385.7" stroke="#333" stroke-width="1.3"/>
<polygon points="397.4,319.8 399,321.4 397.4,323 395.8,321.4" fill="none" stroke="#3f66b0" stroke-width="0.95"/>
<circle cx="397.4" cy="345.8" r="1.4" fill="#6a2c8a"/>
<rect x="396.3" y="348.7" width="2.2" height="2.2" fill="#6dbb48"/>
<circle cx="397.4" cy="370.7" r="0.9" fill="#23408e"/>
<circle cx="397.4" cy="375.1" r="1.4" fill="#23408e"/>
<rect x="393.8" y="379" width="2.6" height="2.6" fill="none" stroke="#6a2c8a" stroke-width="0.95"/>
<rect x="397.9" y="378.2" width="2.6" height="2.6" fill="none" stroke="#6dbb48" stroke-width="0.95"/>
<rect x="398.6" y="379.9" width="2.6" height="2.6" fill="none" stroke="#6dbb48" stroke-width="0.95"/>
<circle cx="399.2" cy="383.2" r="1.4" fill="#3f66b0"/>
<polygon points="395.1,384.8 396.8,386.5 395.1,388.2 393.4,386.5" fill="#ee9a22"/>
<polygon points="397.5,385.3 399.2,387 397.5,388.7 395.8,387" fill="#ee9a22"/>
<circle cx="393.8" cy="386" r="1.4" fill="#ee9a22"/>
<circle cx="393.1" cy="388.9" r="1.4" fill="#c8173f"/>
<circle cx="397.8" cy="388.9" r="1.4" fill="#3f66b0"/>
<circle cx="399.9" cy="388.2" r="1.4" fill="#c8173f"/>
<circle cx="402.5" cy="388.2" r="1.4" fill="#6dbb48"/>
<circle cx="391.8" cy="391" r="1.4" fill="#ee9a22"/>
<circle cx="394.1" cy="390.9" r="1.4" fill="#c8173f"/>
<circle cx="396.2" cy="390.9" r="1.4" fill="#c8173f"/>
<circle cx="399" cy="391.5" r="1.4" fill="#6a2c8a"/>
<circle cx="393.5" cy="393.6" r="1.4" fill="#ee9a22"/>
<circle cx="396.8" cy="394.6" r="1.4" fill="#3f66b0"/>
<circle cx="396.5" cy="392.6" r="1.4" fill="#c8173f"/>
<circle cx="401.5" cy="393" r="1.4" fill="#c8173f"/>
<circle cx="403.9" cy="393.9" r="1.4" fill="#ee9a22"/>
<circle cx="405.5" cy="395" r="1.4" fill="#3f66b0"/>
<circle cx="407" cy="396" r="1.4" fill="#ee9a22"/>
<rect x="383.6" y="396.2" width="2.8" height="2.8" fill="#6a2c8a"/>
<circle cx="386.8" cy="397.6" r="1.4" fill="#6a2c8a"/>
<circle cx="388.8" cy="397.6" r="1.4" fill="#6a2c8a"/>
<circle cx="390.1" cy="397.6" r="1.4" fill="#c8173f"/>
<circle cx="392.4" cy="397.6" r="1.4" fill="#6a2c8a"/>
<circle cx="393.8" cy="397.6" r="1.4" fill="#c8173f"/>
<circle cx="396.5" cy="397.6" r="1.4" fill="#6dbb48"/>
<circle cx="399.2" cy="397.6" r="1.4" fill="#c8173f"/>
<circle cx="401.5" cy="397.6" r="1.4" fill="#ee9a22"/>
<circle cx="403.2" cy="397.6" r="1.4" fill="#c8173f"/>
<circle cx="405.2" cy="397.6" r="1.4" fill="#23408e"/>
<circle cx="408.3" cy="397.6" r="1.4" fill="#c8173f"/>
<circle cx="410" cy="397.6" r="0.9" fill="#6dbb48"/>
<line x1="391.1" y1="385" x2="403.9" y2="385" stroke="#e07090" stroke-width="1.0"/>
<line x1="384.4" y1="392.3" x2="410.6" y2="392.3" stroke="#222" stroke-width="1.3"/>
<circle cx="148.7" cy="463.5" r="1.6" fill="none" stroke="#c8173f" stroke-width="0.95"/>
<polygon points="132.5,470.05 134.25,473.45 130.75,473.45" fill="#23408e"/>
<circle cx="136.3" cy="484" r="1.6" fill="none" stroke="#3f66b0" stroke-width="0.95"/>
<rect x="125.1" y="483.8" width="3.2" height="3.2" fill="none" stroke="#6a2c8a" stroke-width="0.95"/>
<polygon points="100.6,485.35 102.05,488.15 99.15,488.15" fill="#ee9a22"/>
<polygon points="122.3,489.95 124.05,493.15 120.55,493.15" fill="none" stroke="#6a2c8a" stroke-width="0.95"/>
<rect x="122.35" y="491.85" width="2.9" height="2.9" fill="none" stroke="#6a2c8a" stroke-width="0.95"/>
<circle cx="130.6" cy="490.4" r="1.55" fill="#23408e"/>
<circle cx="137.7" cy="490.4" r="0.9" fill="#6dbb48"/>
<circle cx="148.3" cy="491.7" r="1.6" fill="none" stroke="#c8173f" stroke-width="0.95"/>
<circle cx="112.1" cy="493.7" r="1.6" fill="none" stroke="#ee9a22" stroke-width="0.95"/>
<circle cx="138.7" cy="494.6" r="1.55" fill="#6dbb48"/>
<rect x="144.35" y="494.75" width="2.9" height="2.9" fill="none" stroke="#c8173f" stroke-width="0.95"/>
<rect x="134.35" y="495.05" width="2.9" height="2.9" fill="none" stroke="#3f66b0" stroke-width="0.95"/>
<rect x="133.35" y="497.95" width="2.9" height="2.9" fill="none" stroke="#3f66b0" stroke-width="0.95"/>
<polygon points="131.3,496.35 133.05,498.1 131.3,499.85 129.55,498.1" fill="none" stroke="#3f66b0" stroke-width="0.95"/>
<rect x="137.25" y="497.05" width="2.9" height="2.9" fill="none" stroke="#6dbb48" stroke-width="0.95"/>
<circle cx="139.2" cy="501" r="1.55" fill="#6dbb48"/>
<rect x="109.25" y="501.75" width="3.1" height="3.1" fill="#ee9a22"/>
<rect x="126.15" y="499.75" width="3.1" height="3.1" fill="#6a2c8a"/>
<circle cx="129.5" cy="503" r="1.55" fill="#23408e"/>
<circle cx="140.6" cy="502.7" r="1.45" fill="none" stroke="#c8173f" stroke-width="0.95"/>
<rect x="131.95" y="504.25" width="3.1" height="3.1" fill="#3f66b0"/>
<rect x="136.25" y="503.95" width="3.1" height="3.1" fill="#6dbb48"/>
<circle cx="136" cy="503" r="1.55" fill="#3f66b0"/>
<polygon points="94.4,506.2 96.3,509.7 92.5,509.7" fill="none" stroke="#ee9a22" stroke-width="0.95"/>
<rect x="102.1" y="505.5" width="3.2" height="3.2" fill="none" stroke="#ee9a22" stroke-width="0.95"/>
<rect x="103.8" y="507.4" width="3.2" height="3.2" fill="none" stroke="#ee9a22" stroke-width="0.95"/>
<rect x="142.45" y="505.55" width="3.1" height="3.1" fill="#c8173f"/>
<rect x="145.75" y="504.25" width="3.1" height="3.1" fill="#c8173f"/>
<polygon points="110.8,507.5 112.7,509.4 110.8,511.3 108.9,509.4" fill="none" stroke="#ee9a22" stroke-width="0.95"/>
<circle cx="129.6" cy="509" r="1.6" fill="none" stroke="#6a2c8a" stroke-width="0.95"/>
<polygon points="138.1,508.1 140,511.6 136.2,511.6" fill="none" stroke="#6dbb48" stroke-width="0.95"/>
<polygon points="122.3,508.55 124.05,511.95 120.55,511.95" fill="#23408e"/>
<circle cx="115.6" cy="511" r="1.55" fill="#ee9a22"/>
<polygon points="116.5,511.05 118.35,512.9 116.5,514.75 114.65,512.9" fill="#6a2c8a"/>
<circle cx="148.7" cy="511.5" r="1.55" fill="#c8173f"/>
<polygon points="64.2,511.6 66.1,513.5 64.2,515.4 62.3,513.5" fill="none" stroke="#ee9a22" stroke-width="0.95"/>
<polygon points="74.2,516.55 75.75,518.1 74.2,519.65 72.65,518.1" fill="#ee9a22"/>
<polygon points="143.1,522.1 145.1,526 141.1,526" fill="#c8173f"/>
<circle cx="317.7" cy="456.8" r="1.6" fill="none" stroke="#3f66b0" stroke-width="0.95"/>
<polygon points="287.7,461.25 289.45,464.65 285.95,464.65" fill="#23408e"/>
<circle cx="282.4" cy="489.1" r="0.9" fill="#6dbb48"/>
<rect x="291.05" y="491.85" width="3.1" height="3.1" fill="#6dbb48"/>
<rect x="273.4" y="492.4" width="3.2" height="3.2" fill="none" stroke="#6a2c8a" stroke-width="0.95"/>
<circle cx="244.2" cy="502.7" r="1.6" fill="none" stroke="#c8173f" stroke-width="0.95"/>
<polygon points="259.8,504.25 261.55,507.65 258.05,507.65" fill="#23408e"/>
<polygon points="254.5,508.25 256.25,510 254.5,511.75 252.75,510" fill="none" stroke="#3f66b0" stroke-width="0.95"/>
<circle cx="259.1" cy="509.7" r="1.45" fill="none" stroke="#6a2c8a" stroke-width="0.95"/>
<circle cx="267" cy="510.3" r="1.55" fill="#6dbb48"/>
<rect x="269.2" y="507.2" width="3.2" height="3.2" fill="none" stroke="#6dbb48" stroke-width="0.95"/>
<polygon points="262.3,509.55 264.05,511.3 262.3,513.05 260.55,511.3" fill="none" stroke="#6dbb48" stroke-width="0.95"/>
<polygon points="269.7,511.1 271.6,514.6 267.8,514.6" fill="none" stroke="#6dbb48" stroke-width="0.95"/>
<rect x="242.6" y="507.6" width="3.2" height="3.2" fill="none" stroke="#6a2c8a" stroke-width="0.95"/>
<circle cx="248" cy="511.2" r="1.7" fill="#c8173f"/>
<polygon points="238.9,509.95 240.35,512.75 237.45,512.75" fill="#ee9a22"/>
<circle cx="246.5" cy="515.4" r="1.45" fill="none" stroke="#c8173f" stroke-width="0.95"/>
<circle cx="248.5" cy="514.8" r="1.55" fill="#3f66b0"/>
<circle cx="234.2" cy="517.3" r="1.6" fill="none" stroke="#ee9a22" stroke-width="0.95"/>
<circle cx="250.7" cy="518.8" r="1.55" fill="#c8173f"/>
<polygon points="230.7,516.65 232.45,520.05 228.95,520.05" fill="#6a2c8a"/>
<rect x="238.85" y="517.75" width="2.9" height="2.9" fill="none" stroke="#3f66b0" stroke-width="0.95"/>
<circle cx="241.2" cy="518.3" r="1.55" fill="#3f66b0"/>
<polygon points="244.5,517.85 246.25,519.6 244.5,521.35 242.75,519.6" fill="none" stroke="#6a2c8a" stroke-width="0.95"/>
<circle cx="237.6" cy="520.4" r="1.55" fill="#c8173f"/>
<polygon points="223,522.95 224.85,524.8 223,526.65 221.15,524.8" fill="#ee9a22"/>
<polygon points="225,521.65 226.85,523.5 225,525.35 223.15,523.5" fill="#ee9a22"/>
<rect x="225.45" y="522.95" width="3.1" height="3.1" fill="#ee9a22"/>
<circle cx="229" cy="522.8" r="1.55" fill="#ee9a22"/>
<rect x="229.45" y="521.45" width="3.1" height="3.1" fill="#ee9a22"/>
<polygon points="233,520.15 234.85,522 233,523.85 231.15,522" fill="#ee9a22"/>
<rect x="233.45" y="519.95" width="3.1" height="3.1" fill="#ee9a22"/>
<circle cx="229" cy="521.5" r="1.55" fill="#23408e"/>
<circle cx="226.5" cy="522" r="1.55" fill="#6dbb48"/>
<circle cx="231.5" cy="521" r="1.55" fill="#6a2c8a"/>
<circle cx="228" cy="520.5" r="0.9" fill="#3f66b0"/>
<circle cx="229.5" cy="526.2" r="1.4" fill="#c8173f"/>
<circle cx="403.1" cy="463.3" r="1.6" fill="none" stroke="#c8173f" stroke-width="0.95"/>
<polygon points="449.2,469.75 450.95,473.15 447.45,473.15" fill="#23408e"/>
<circle cx="481.5" cy="483.9" r="1.6" fill="none" stroke="#3f66b0" stroke-width="0.95"/>
<circle cx="443.8" cy="490.4" r="0.9" fill="#6dbb48"/>
<rect x="453.05" y="497.25" width="3.1" height="3.1" fill="#6dbb48"/>
<rect x="401.5" y="484.1" width="3.2" height="3.2" fill="none" stroke="#6a2c8a" stroke-width="0.95"/>
<polygon points="398,485.55 399.45,488.35 396.55,488.35" fill="#ee9a22"/>
<circle cx="380.5" cy="490.7" r="1.55" fill="#6a2c8a"/>
<polygon points="388.4,489.7 390.3,493.2 386.5,493.2" fill="none" stroke="#6a2c8a" stroke-width="0.95"/>
<circle cx="407.1" cy="492.3" r="1.6" fill="none" stroke="#c8173f" stroke-width="0.95"/>
<circle cx="392.4" cy="493.8" r="1.6" fill="none" stroke="#ee9a22" stroke-width="0.95"/>
<circle cx="383.5" cy="494.7" r="1.6" fill="none" stroke="#6dbb48" stroke-width="0.95"/>
<circle cx="386.6" cy="495.2" r="1.55" fill="#6dbb48"/>
<rect x="385.4" y="495.2" width="3.2" height="3.2" fill="none" stroke="#3f66b0" stroke-width="0.95"/>
<circle cx="383.5" cy="498.7" r="1.45" fill="none" stroke="#3f66b0" stroke-width="0.95"/>
<polygon points="414.2,496.3 416.2,498.3 414.2,500.3 412.2,498.3" fill="#3f66b0"/>
<circle cx="419.5" cy="495.8" r="1.55" fill="#23408e"/>
<rect x="434.2" y="491.1" width="3.2" height="3.2" fill="none" stroke="#6a2c8a" stroke-width="0.95"/>
<circle cx="381.7" cy="502.3" r="1.55" fill="#23408e"/>
<polygon points="405.7,500.55 407.45,502.3 405.7,504.05 403.95,502.3" fill="none" stroke="#c8173f" stroke-width="0.95"/>
<circle cx="407.5" cy="503" r="1.55" fill="#3f66b0"/>
<circle cx="419.5" cy="501.5" r="1.6" fill="none" stroke="#6a2c8a" stroke-width="0.95"/>
<polygon points="422.3,503.1 424.2,505 422.3,506.9 420.4,505" fill="none" stroke="#6dbb48" stroke-width="0.95"/>
<circle cx="427.7" cy="505" r="1.55" fill="#6dbb48"/>
<rect x="430.7" y="503.4" width="3.2" height="3.2" fill="none" stroke="#6dbb48" stroke-width="0.95"/>
<polygon points="430,507.7 431.9,511.2 428.1,511.2" fill="none" stroke="#6dbb48" stroke-width="0.95"/>
<rect x="384.9" y="501.9" width="3.4" height="3.4" fill="#ee9a22"/>
<circle cx="383.9" cy="504.1" r="1.55" fill="#6a2c8a"/>
<circle cx="389.3" cy="503.9" r="1.55" fill="#c8173f"/>
<circle cx="396.4" cy="505.8" r="1.55" fill="#c8173f"/>
<rect x="397.5" y="504.2" width="3.2" height="3.2" fill="none" stroke="#3f66b0" stroke-width="0.95"/>
<polygon points="386.1,504.3 388.1,506.3 386.1,508.3 384.1,506.3" fill="#ee9a22"/>
<polygon points="393.7,505.75 395.45,509.15 391.95,509.15" fill="#c8173f"/>
<circle cx="381.2" cy="509" r="1.6" fill="none" stroke="#ee9a22" stroke-width="0.95"/>
<circle cx="385.2" cy="508.5" r="1.55" fill="#ee9a22"/>
<rect x="387.7" y="506.9" width="3.2" height="3.2" fill="none" stroke="#ee9a22" stroke-width="0.95"/>
<circle cx="381.5" cy="510.7" r="1.55" fill="#6a2c8a"/>
<circle cx="383.9" cy="510.7" r="1.55" fill="#6dbb48"/>
<polygon points="387,509.15 388.75,512.55 385.25,512.55" fill="#23408e"/>
<circle cx="392.4" cy="511.2" r="1.7" fill="#ee9a22"/>
<polygon points="403.3,510.6 405.2,512.5 403.3,514.4 401.4,512.5" fill="none" stroke="#6a2c8a" stroke-width="0.95"/>
<circle cx="409.8" cy="511.4" r="1.7" fill="#c8173f"/>
<circle cx="383.5" cy="512.5" r="1.55" fill="#6a2c8a"/>
<polygon points="379.9,511.9 381.9,513.9 379.9,515.9 377.9,513.9" fill="#ee9a22"/>
<polygon points="379,516.75 380.55,518.3 379,519.85 377.45,518.3" fill="#ee9a22"/>
<polygon points="388.2,522.1 390.3,526.2 386.1,526.2" fill="#c8173f"/>
</svg>
</body></html>
